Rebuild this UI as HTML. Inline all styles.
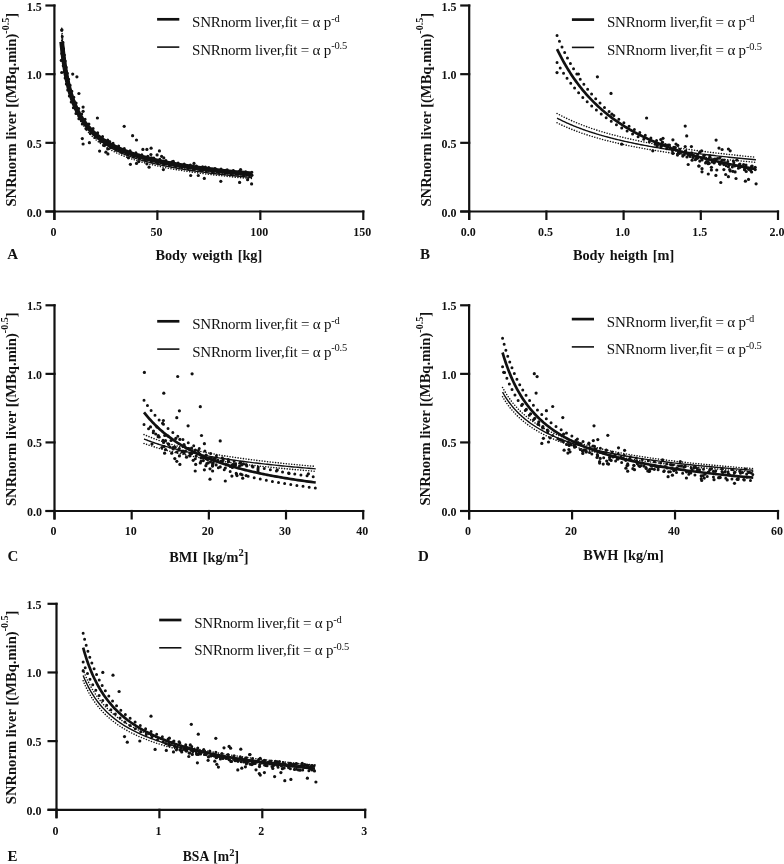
<!DOCTYPE html>
<html><head><meta charset="utf-8"><style>
html,body{margin:0;padding:0;background:#fff;}
svg{display:block;will-change:transform;}
.t{font-family:"Liberation Serif",serif;font-weight:bold;font-size:12px;fill:#111;}
.xl{font-family:"Liberation Serif",serif;font-weight:bold;font-size:14.3px;fill:#111;word-spacing:1.4px;}
.pl{font-family:"Liberation Serif",serif;font-weight:bold;font-size:15px;fill:#111;}
.yl{font-family:"Liberation Serif",serif;font-weight:bold;font-size:14.6px;fill:#111;}
.f1{fill:none;stroke:#111;stroke-width:2.7;}
.f2{fill:none;stroke:#111;stroke-width:1.4;}
.ci1{fill:none;stroke:#111;stroke-width:3.0;stroke-dasharray:0 6.2;stroke-linecap:round;}
.ci2{fill:none;stroke:#111;stroke-width:1.6;stroke-dasharray:0 2.7;stroke-linecap:round;}
.lg{font-family:"Liberation Serif",serif;font-size:15px;fill:#111;letter-spacing:-0.2px;}
</style></head><body>
<svg fill="#111" width="784" height="864" viewBox="0 0 784 864">
<path d="M54.40 4.40V220.00M45.40 211.50H364.40" stroke="#111" stroke-width="2.2" fill="none"/>
<path d="M45.40 211.50H55.50" stroke="#111" stroke-width="2.2"/>
<text transform="translate(41.80 216.50) scale(1 1.12)" text-anchor="end" class="t">0.0</text>
<path d="M45.40 142.83H55.50" stroke="#111" stroke-width="2.2"/>
<text transform="translate(41.80 147.83) scale(1 1.12)" text-anchor="end" class="t">0.5</text>
<path d="M45.40 74.17H55.50" stroke="#111" stroke-width="2.2"/>
<text transform="translate(41.80 79.17) scale(1 1.12)" text-anchor="end" class="t">1.0</text>
<path d="M45.40 5.50H55.50" stroke="#111" stroke-width="2.2"/>
<text transform="translate(41.80 10.50) scale(1 1.12)" text-anchor="end" class="t">1.5</text>
<path d="M54.40 210.40V220.00" stroke="#111" stroke-width="2.2"/>
<text transform="translate(53.40 235.70) scale(1 1.12)" text-anchor="middle" class="t">0</text>
<path d="M157.37 210.40V220.00" stroke="#111" stroke-width="2.2"/>
<text transform="translate(156.37 235.70) scale(1 1.12)" text-anchor="middle" class="t">50</text>
<path d="M260.33 210.40V220.00" stroke="#111" stroke-width="2.2"/>
<text transform="translate(259.33 235.70) scale(1 1.12)" text-anchor="middle" class="t">100</text>
<path d="M363.30 210.40V220.00" stroke="#111" stroke-width="2.2"/>
<text transform="translate(362.30 235.70) scale(1 1.12)" text-anchor="middle" class="t">150</text>
<text x="208.85" y="259.90" text-anchor="middle" class="xl" style="font-size:14.3px">Body weigth [kg]</text>
<text x="7.30" y="258.60" class="pl">A</text>
<text transform="translate(15.90 206.50) rotate(-90)" class="yl">SNRnorm liver [(MBq.min)<tspan dy="-7.2" font-size="10">-0.5</tspan><tspan dy="7.2">]</tspan></text>
<path d="M157.10 19.30h22.2" stroke="#111" stroke-width="2.7"/>
<path d="M157.10 47.10h22.2" stroke="#111" stroke-width="1.6"/>
<text x="192.10" y="27.00" class="lg">SNRnorm liver,fit = α p<tspan dy="-5.2" font-size="10.5">-d</tspan></text>
<text x="192.10" y="54.50" class="lg">SNRnorm liver,fit = α p<tspan dy="-5.2" font-size="10.5">-0.5</tspan></text>
<path d="M61.71 28.18 L61.91 30.68 L62.12 33.15 L62.34 35.58 L62.56 37.98 L62.79 40.35 L63.02 42.69 L63.26 44.99 L63.51 47.26 L63.76 49.50 L64.02 51.71 L64.29 53.89 L64.57 56.04 L64.85 58.17 L65.14 60.26 L65.44 62.32 L65.75 64.36 L66.06 66.37 L66.39 68.35 L66.72 70.30 L67.07 72.23 L67.42 74.13 L67.78 76.00 L68.15 77.85 L68.54 79.67 L68.93 81.47 L69.34 83.25 L69.75 85.00 L70.18 86.72 L70.62 88.42 L71.07 90.10 L71.54 91.76 L72.01 93.39 L72.50 95.01 L73.01 96.60 L73.53 98.16 L74.06 99.71 L74.61 101.24 L75.17 102.74 L75.75 104.22 L76.34 105.69 L76.95 107.13 L77.58 108.56 L78.23 109.96 L78.89 111.35 L79.58 112.71 L80.28 114.06 L81.00 115.39 L81.74 116.70 L82.50 118.00 L83.28 119.27 L84.09 120.53 L84.91 121.77 L85.76 123.00 L86.64 124.20 L87.54 125.39 L88.46 126.57 L89.41 127.73 L90.38 128.87 L91.39 130.00 L92.42 131.11 L93.48 132.21 L94.56 133.29 L95.68 134.36 L96.83 135.41 L98.02 136.45 L99.23 137.47 L100.48 138.48 L101.76 139.48 L103.08 140.46 L104.44 141.43 L105.83 142.39 L107.27 143.33 L108.74 144.26 L110.25 145.18 L111.81 146.08 L113.41 146.97 L115.05 147.86 L116.74 148.72 L118.48 149.58 L120.26 150.43 L122.10 151.26 L123.99 152.08 L125.92 152.89 L127.92 153.69 L129.96 154.48 L132.07 155.26 L134.23 156.03 L136.46 156.78 L138.74 157.53 L141.09 158.27 L143.51 158.99 L145.99 159.71 L148.54 160.42 L151.17 161.11 L153.86 161.80 L156.63 162.48 L159.48 163.15 L162.41 163.81 L165.42 164.46 L168.51 165.10 L171.69 165.73 L174.96 166.36 L178.32 166.97 L181.77 167.58 L185.32 168.18 L188.96 168.77 L192.71 169.35 L196.57 169.93 L200.53 170.50 L204.60 171.06 L208.78 171.61 L213.08 172.15 L217.50 172.69 L222.05 173.22 L226.72 173.74 L231.52 174.26 L236.45 174.76 L241.52 175.27 L246.74 175.76 L252.10 176.25" class="ci2"/>
<path d="M61.71 40.58 L61.91 42.91 L62.12 45.21 L62.34 47.48 L62.56 49.72 L62.79 51.93 L63.02 54.10 L63.26 56.25 L63.51 58.37 L63.76 60.46 L64.02 62.52 L64.29 64.55 L64.57 66.56 L64.85 68.54 L65.14 70.49 L65.44 72.41 L65.75 74.31 L66.06 76.18 L66.39 78.03 L66.72 79.85 L67.07 81.65 L67.42 83.42 L67.78 85.16 L68.15 86.89 L68.54 88.59 L68.93 90.27 L69.34 91.92 L69.75 93.55 L70.18 95.16 L70.62 96.75 L71.07 98.31 L71.54 99.86 L72.01 101.38 L72.50 102.89 L73.01 104.37 L73.53 105.83 L74.06 107.27 L74.61 108.69 L75.17 110.10 L75.75 111.48 L76.34 112.84 L76.95 114.19 L77.58 115.52 L78.23 116.83 L78.89 118.12 L79.58 119.39 L80.28 120.65 L81.00 121.89 L81.74 123.11 L82.50 124.32 L83.28 125.51 L84.09 126.68 L84.91 127.84 L85.76 128.98 L86.64 130.11 L87.54 131.22 L88.46 132.31 L89.41 133.39 L90.38 134.46 L91.39 135.51 L92.42 136.55 L93.48 137.57 L94.56 138.58 L95.68 139.57 L96.83 140.56 L98.02 141.52 L99.23 142.48 L100.48 143.42 L101.76 144.35 L103.08 145.27 L104.44 146.17 L105.83 147.06 L107.27 147.94 L108.74 148.81 L110.25 149.66 L111.81 150.51 L113.41 151.34 L115.05 152.16 L116.74 152.97 L118.48 153.77 L120.26 154.56 L122.10 155.33 L123.99 156.10 L125.92 156.86 L127.92 157.60 L129.96 158.34 L132.07 159.06 L134.23 159.78 L136.46 160.48 L138.74 161.18 L141.09 161.87 L143.51 162.54 L145.99 163.21 L148.54 163.87 L151.17 164.52 L153.86 165.16 L156.63 165.79 L159.48 166.42 L162.41 167.03 L165.42 167.64 L168.51 168.24 L171.69 168.83 L174.96 169.41 L178.32 169.98 L181.77 170.55 L185.32 171.11 L188.96 171.66 L192.71 172.20 L196.57 172.74 L200.53 173.27 L204.60 173.79 L208.78 174.31 L213.08 174.81 L217.50 175.31 L222.05 175.81 L226.72 176.29 L231.52 176.78 L236.45 177.25 L241.52 177.72 L246.74 178.18 L252.10 178.63" class="ci2"/>
<path d="M61.71 34.38 L61.91 36.80 L62.12 39.18 L62.34 41.53 L62.56 43.85 L62.79 46.14 L63.02 48.40 L63.26 50.62 L63.51 52.82 L63.76 54.98 L64.02 57.12 L64.29 59.22 L64.57 61.30 L64.85 63.35 L65.14 65.37 L65.44 67.37 L65.75 69.33 L66.06 71.27 L66.39 73.19 L66.72 75.07 L67.07 76.94 L67.42 78.77 L67.78 80.58 L68.15 82.37 L68.54 84.13 L68.93 85.87 L69.34 87.58 L69.75 89.27 L70.18 90.94 L70.62 92.59 L71.07 94.21 L71.54 95.81 L72.01 97.39 L72.50 98.95 L73.01 100.48 L73.53 102.00 L74.06 103.49 L74.61 104.96 L75.17 106.42 L75.75 107.85 L76.34 109.27 L76.95 110.66 L77.58 112.04 L78.23 113.39 L78.89 114.73 L79.58 116.05 L80.28 117.36 L81.00 118.64 L81.74 119.91 L82.50 121.16 L83.28 122.39 L84.09 123.61 L84.91 124.81 L85.76 125.99 L86.64 127.16 L87.54 128.31 L88.46 129.44 L89.41 130.56 L90.38 131.67 L91.39 132.75 L92.42 133.83 L93.48 134.89 L94.56 135.93 L95.68 136.97 L96.83 137.98 L98.02 138.99 L99.23 139.98 L100.48 140.95 L101.76 141.91 L103.08 142.86 L104.44 143.80 L105.83 144.72 L107.27 145.63 L108.74 146.53 L110.25 147.42 L111.81 148.29 L113.41 149.16 L115.05 150.01 L116.74 150.85 L118.48 151.67 L120.26 152.49 L122.10 153.30 L123.99 154.09 L125.92 154.87 L127.92 155.65 L129.96 156.41 L132.07 157.16 L134.23 157.90 L136.46 158.63 L138.74 159.35 L141.09 160.07 L143.51 160.77 L145.99 161.46 L148.54 162.14 L151.17 162.82 L153.86 163.48 L156.63 164.14 L159.48 164.78 L162.41 165.42 L165.42 166.05 L168.51 166.67 L171.69 167.28 L174.96 167.88 L178.32 168.48 L181.77 169.07 L185.32 169.64 L188.96 170.22 L192.71 170.78 L196.57 171.33 L200.53 171.88 L204.60 172.42 L208.78 172.96 L213.08 173.48 L217.50 174.00 L222.05 174.51 L226.72 175.02 L231.52 175.52 L236.45 176.01 L241.52 176.49 L246.74 176.97 L252.10 177.44" class="f2"/>
<path d="M61.71 30.24 L61.91 32.58 L62.12 34.88 L62.34 37.16 L62.56 39.41 L62.79 41.62 L63.02 43.81 L63.26 45.97 L63.51 48.10 L63.76 50.20 L64.02 52.28 L64.29 54.33 L64.57 56.35 L64.85 58.35 L65.14 60.32 L65.44 62.26 L65.75 64.18 L66.06 66.08 L66.39 67.94 L66.72 69.79 L67.07 71.61 L67.42 73.41 L67.78 75.18 L68.15 76.93 L68.54 78.66 L68.93 80.37 L69.34 82.05 L69.75 83.71 L70.18 85.35 L70.62 86.97 L71.07 88.57 L71.54 90.14 L72.01 91.70 L72.50 93.23 L73.01 94.75 L73.53 96.25 L74.06 97.72 L74.61 99.18 L75.17 100.62 L75.75 102.04 L76.34 103.44 L76.95 104.82 L77.58 106.18 L78.23 107.53 L78.89 108.86 L79.58 110.17 L80.28 111.46 L81.00 112.74 L81.74 114.00 L82.50 115.25 L83.28 116.47 L84.09 117.69 L84.91 118.88 L85.76 120.06 L86.64 121.23 L87.54 122.38 L88.46 123.51 L89.41 124.63 L90.38 125.74 L91.39 126.83 L92.42 127.90 L93.48 128.97 L94.56 130.02 L95.68 131.05 L96.83 132.07 L98.02 133.08 L99.23 134.07 L100.48 135.06 L101.76 136.02 L103.08 136.98 L104.44 137.92 L105.83 138.85 L107.27 139.77 L108.74 140.68 L110.25 141.58 L111.81 142.46 L113.41 143.33 L115.05 144.19 L116.74 145.04 L118.48 145.88 L120.26 146.70 L122.10 147.52 L123.99 148.33 L125.92 149.12 L127.92 149.91 L129.96 150.68 L132.07 151.44 L134.23 152.20 L136.46 152.94 L138.74 153.68 L141.09 154.40 L143.51 155.12 L145.99 155.82 L148.54 156.52 L151.17 157.21 L153.86 157.89 L156.63 158.56 L159.48 159.22 L162.41 159.87 L165.42 160.52 L168.51 161.15 L171.69 161.78 L174.96 162.40 L178.32 163.01 L181.77 163.61 L185.32 164.21 L188.96 164.80 L192.71 165.38 L196.57 165.95 L200.53 166.51 L204.60 167.07 L208.78 167.62 L213.08 168.17 L217.50 168.70 L222.05 169.23 L226.72 169.76 L231.52 170.27 L236.45 170.78 L241.52 171.29 L246.74 171.78 L252.10 172.27" class="ci1"/>
<path d="M61.71 53.38 L61.91 55.28 L62.12 57.17 L62.34 59.02 L62.56 60.86 L62.79 62.68 L63.02 64.47 L63.26 66.24 L63.51 67.99 L63.76 69.72 L64.02 71.43 L64.29 73.12 L64.57 74.79 L64.85 76.44 L65.14 78.07 L65.44 79.69 L65.75 81.28 L66.06 82.85 L66.39 84.41 L66.72 85.94 L67.07 87.46 L67.42 88.96 L67.78 90.44 L68.15 91.91 L68.54 93.35 L68.93 94.78 L69.34 96.20 L69.75 97.59 L70.18 98.97 L70.62 100.33 L71.07 101.68 L71.54 103.01 L72.01 104.33 L72.50 105.63 L73.01 106.91 L73.53 108.18 L74.06 109.44 L74.61 110.68 L75.17 111.90 L75.75 113.11 L76.34 114.31 L76.95 115.49 L77.58 116.66 L78.23 117.81 L78.89 118.95 L79.58 120.08 L80.28 121.19 L81.00 122.29 L81.74 123.38 L82.50 124.45 L83.28 125.52 L84.09 126.57 L84.91 127.60 L85.76 128.63 L86.64 129.64 L87.54 130.64 L88.46 131.63 L89.41 132.61 L90.38 133.57 L91.39 134.53 L92.42 135.47 L93.48 136.40 L94.56 137.32 L95.68 138.23 L96.83 139.13 L98.02 140.02 L99.23 140.90 L100.48 141.77 L101.76 142.62 L103.08 143.47 L104.44 144.31 L105.83 145.14 L107.27 145.95 L108.74 146.76 L110.25 147.56 L111.81 148.35 L113.41 149.13 L115.05 149.90 L116.74 150.66 L118.48 151.41 L120.26 152.16 L122.10 152.89 L123.99 153.62 L125.92 154.33 L127.92 155.04 L129.96 155.74 L132.07 156.44 L134.23 157.12 L136.46 157.80 L138.74 158.46 L141.09 159.12 L143.51 159.78 L145.99 160.42 L148.54 161.06 L151.17 161.69 L153.86 162.31 L156.63 162.92 L159.48 163.53 L162.41 164.13 L165.42 164.72 L168.51 165.31 L171.69 165.89 L174.96 166.46 L178.32 167.02 L181.77 167.58 L185.32 168.13 L188.96 168.68 L192.71 169.21 L196.57 169.75 L200.53 170.27 L204.60 170.79 L208.78 171.30 L213.08 171.81 L217.50 172.31 L222.05 172.80 L226.72 173.29 L231.52 173.77 L236.45 174.25 L241.52 174.72 L246.74 175.19 L252.10 175.65" class="ci1"/>
<path d="M61.71 41.81 L61.91 43.93 L62.12 46.02 L62.34 48.09 L62.56 50.13 L62.79 52.15 L63.02 54.14 L63.26 56.11 L63.51 58.05 L63.76 59.96 L64.02 61.86 L64.29 63.73 L64.57 65.57 L64.85 67.40 L65.14 69.20 L65.44 70.97 L65.75 72.73 L66.06 74.46 L66.39 76.17 L66.72 77.87 L67.07 79.54 L67.42 81.18 L67.78 82.81 L68.15 84.42 L68.54 86.01 L68.93 87.57 L69.34 89.12 L69.75 90.65 L70.18 92.16 L70.62 93.65 L71.07 95.12 L71.54 96.58 L72.01 98.01 L72.50 99.43 L73.01 100.83 L73.53 102.21 L74.06 103.58 L74.61 104.93 L75.17 106.26 L75.75 107.57 L76.34 108.87 L76.95 110.15 L77.58 111.42 L78.23 112.67 L78.89 113.91 L79.58 115.12 L80.28 116.33 L81.00 117.52 L81.74 118.69 L82.50 119.85 L83.28 121.00 L84.09 122.13 L84.91 123.24 L85.76 124.35 L86.64 125.43 L87.54 126.51 L88.46 127.57 L89.41 128.62 L90.38 129.66 L91.39 130.68 L92.42 131.69 L93.48 132.68 L94.56 133.67 L95.68 134.64 L96.83 135.60 L98.02 136.55 L99.23 137.49 L100.48 138.41 L101.76 139.32 L103.08 140.23 L104.44 141.12 L105.83 142.00 L107.27 142.86 L108.74 143.72 L110.25 144.57 L111.81 145.40 L113.41 146.23 L115.05 147.04 L116.74 147.85 L118.48 148.65 L120.26 149.43 L122.10 150.21 L123.99 150.97 L125.92 151.73 L127.92 152.47 L129.96 153.21 L132.07 153.94 L134.23 154.66 L136.46 155.37 L138.74 156.07 L141.09 156.76 L143.51 157.45 L145.99 158.12 L148.54 158.79 L151.17 159.45 L153.86 160.10 L156.63 160.74 L159.48 161.37 L162.41 162.00 L165.42 162.62 L168.51 163.23 L171.69 163.83 L174.96 164.43 L178.32 165.02 L181.77 165.60 L185.32 166.17 L188.96 166.74 L192.71 167.30 L196.57 167.85 L200.53 168.39 L204.60 168.93 L208.78 169.46 L213.08 169.99 L217.50 170.51 L222.05 171.02 L226.72 171.52 L231.52 172.02 L236.45 172.52 L241.52 173.00 L246.74 173.49 L252.10 173.96" class="f1" style="stroke-width:4.8"/>
<circle cx="61.9" cy="29.8" r="1.6"/><circle cx="61.3" cy="60.4" r="1.6"/><circle cx="61.7" cy="72.5" r="1.6"/><circle cx="72.7" cy="74.1" r="1.6"/><circle cx="76.9" cy="76.8" r="1.6"/><circle cx="78.9" cy="93.5" r="1.6"/><circle cx="83.1" cy="107.1" r="1.6"/><circle cx="83.1" cy="111.3" r="1.6"/><circle cx="97.4" cy="118" r="1.6"/><circle cx="124.2" cy="126.3" r="1.6"/><circle cx="132.6" cy="135.7" r="1.6"/><circle cx="136.5" cy="140" r="1.6"/><circle cx="142.9" cy="149.4" r="1.6"/><circle cx="146.9" cy="149.4" r="1.6"/><circle cx="151.1" cy="148.2" r="1.6"/><circle cx="159.4" cy="150.9" r="1.6"/><circle cx="157.1" cy="154.9" r="1.6"/><circle cx="161.6" cy="156.3" r="1.6"/><circle cx="163.8" cy="157.9" r="1.6"/><circle cx="150.9" cy="154.5" r="1.6"/><circle cx="82.3" cy="138.6" r="1.6"/><circle cx="83.1" cy="144" r="1.6"/><circle cx="89.4" cy="142.7" r="1.6"/><circle cx="99.6" cy="151.1" r="1.6"/><circle cx="105.9" cy="152.2" r="1.6"/><circle cx="107.9" cy="153.9" r="1.6"/><circle cx="103.7" cy="145.5" r="1.6"/><circle cx="107.7" cy="148.9" r="1.6"/><circle cx="130.4" cy="164.3" r="1.6"/><circle cx="136.5" cy="163.4" r="1.6"/><circle cx="138.7" cy="161.6" r="1.6"/><circle cx="146.9" cy="163.8" r="1.6"/><circle cx="149.1" cy="167.2" r="1.6"/><circle cx="163.4" cy="169.6" r="1.6"/><circle cx="128.4" cy="157.8" r="1.6"/><circle cx="194" cy="163.4" r="1.6"/><circle cx="190.7" cy="175.5" r="1.6"/><circle cx="198.3" cy="175.5" r="1.6"/><circle cx="204.3" cy="178.4" r="1.6"/><circle cx="220.8" cy="181.3" r="1.6"/><circle cx="239.6" cy="182.4" r="1.6"/><circle cx="247.6" cy="179.7" r="1.6"/><circle cx="251.6" cy="183.9" r="1.6"/><circle cx="62.6" cy="52.0" r="1.6"/><circle cx="68.0" cy="81.9" r="1.6"/><circle cx="73.9" cy="101.4" r="1.6"/><circle cx="80.0" cy="116.4" r="1.6"/><circle cx="81.4" cy="120.5" r="1.6"/><circle cx="87.8" cy="127.2" r="1.6"/><circle cx="94.1" cy="134.6" r="1.6"/><circle cx="98.7" cy="137.1" r="1.6"/><circle cx="101.1" cy="141.3" r="1.6"/><circle cx="104.9" cy="140.5" r="1.6"/><circle cx="109.6" cy="141.5" r="1.6"/><circle cx="116.1" cy="146.8" r="1.6"/><circle cx="120.0" cy="149.1" r="1.6"/><circle cx="124.8" cy="151.4" r="1.6"/><circle cx="130.6" cy="152.6" r="1.6"/><circle cx="134.3" cy="154.7" r="1.6"/><circle cx="139.0" cy="155.2" r="1.6"/><circle cx="142.9" cy="157.5" r="1.6"/><circle cx="151.5" cy="157.9" r="1.6"/><circle cx="153.1" cy="159.3" r="1.6"/><circle cx="161.7" cy="162.2" r="1.6"/><circle cx="163.3" cy="161.7" r="1.6"/><circle cx="169.9" cy="162.8" r="1.6"/><circle cx="173.3" cy="161.4" r="1.6"/><circle cx="179.9" cy="164.8" r="1.6"/><circle cx="183.5" cy="165.0" r="1.6"/><circle cx="189.7" cy="167.7" r="1.6"/><circle cx="193.0" cy="166.2" r="1.6"/><circle cx="195.2" cy="167.7" r="1.6"/><circle cx="201.7" cy="170.7" r="1.6"/><circle cx="205.3" cy="167.2" r="1.6"/><circle cx="212.5" cy="169.3" r="1.6"/><circle cx="215.8" cy="169.0" r="1.6"/><circle cx="222.4" cy="171.6" r="1.6"/><circle cx="226.0" cy="170.4" r="1.6"/><circle cx="228.4" cy="172.6" r="1.6"/><circle cx="233.2" cy="171.2" r="1.6"/><circle cx="240.6" cy="169.6" r="1.6"/><circle cx="244.4" cy="173.9" r="1.6"/><circle cx="251.9" cy="175.2" r="1.6"/>
<path d="M469.20 4.40V220.00M460.20 211.50H779.10" stroke="#111" stroke-width="2.2" fill="none"/>
<path d="M460.20 211.50H470.30" stroke="#111" stroke-width="2.2"/>
<text transform="translate(456.60 216.50) scale(1 1.12)" text-anchor="end" class="t">0.0</text>
<path d="M460.20 142.83H470.30" stroke="#111" stroke-width="2.2"/>
<text transform="translate(456.60 147.83) scale(1 1.12)" text-anchor="end" class="t">0.5</text>
<path d="M460.20 74.17H470.30" stroke="#111" stroke-width="2.2"/>
<text transform="translate(456.60 79.17) scale(1 1.12)" text-anchor="end" class="t">1.0</text>
<path d="M460.20 5.50H470.30" stroke="#111" stroke-width="2.2"/>
<text transform="translate(456.60 10.50) scale(1 1.12)" text-anchor="end" class="t">1.5</text>
<path d="M469.20 210.40V220.00" stroke="#111" stroke-width="2.2"/>
<text transform="translate(468.20 235.70) scale(1 1.12)" text-anchor="middle" class="t">0.0</text>
<path d="M546.40 210.40V220.00" stroke="#111" stroke-width="2.2"/>
<text transform="translate(545.40 235.70) scale(1 1.12)" text-anchor="middle" class="t">0.5</text>
<path d="M623.60 210.40V220.00" stroke="#111" stroke-width="2.2"/>
<text transform="translate(622.60 235.70) scale(1 1.12)" text-anchor="middle" class="t">1.0</text>
<path d="M700.80 210.40V220.00" stroke="#111" stroke-width="2.2"/>
<text transform="translate(699.80 235.70) scale(1 1.12)" text-anchor="middle" class="t">1.5</text>
<path d="M778.00 210.40V220.00" stroke="#111" stroke-width="2.2"/>
<text transform="translate(777.00 235.70) scale(1 1.12)" text-anchor="middle" class="t">2.0</text>
<text x="623.60" y="260.20" text-anchor="middle" class="xl" style="font-size:14.3px">Body heigth [m]</text>
<text x="420.10" y="258.60" class="pl">B</text>
<text transform="translate(430.60 206.50) rotate(-90)" class="yl">SNRnorm liver [(MBq.min)<tspan dy="-7.2" font-size="10">-0.5</tspan><tspan dy="7.2">]</tspan></text>
<path d="M571.90 19.60h22.2" stroke="#111" stroke-width="2.7"/>
<path d="M571.90 47.40h22.2" stroke="#111" stroke-width="1.6"/>
<text x="606.90" y="27.30" class="lg">SNRnorm liver,fit = α p<tspan dy="-5.2" font-size="10.5">-d</tspan></text>
<text x="606.90" y="54.80" class="lg">SNRnorm liver,fit = α p<tspan dy="-5.2" font-size="10.5">-0.5</tspan></text>
<path d="M557.05 113.43 L557.92 113.91 L558.80 114.39 L559.69 114.87 L560.59 115.35 L561.49 115.82 L562.41 116.29 L563.33 116.76 L564.26 117.22 L565.20 117.69 L566.15 118.15 L567.11 118.61 L568.08 119.06 L569.06 119.52 L570.05 119.97 L571.05 120.42 L572.06 120.87 L573.08 121.31 L574.11 121.76 L575.15 122.20 L576.20 122.64 L577.26 123.07 L578.33 123.51 L579.41 123.94 L580.50 124.37 L581.60 124.80 L582.72 125.23 L583.84 125.65 L584.98 126.07 L586.12 126.49 L587.28 126.91 L588.45 127.33 L589.63 127.74 L590.83 128.15 L592.03 128.56 L593.25 128.97 L594.48 129.38 L595.72 129.78 L596.97 130.18 L598.24 130.58 L599.51 130.98 L600.81 131.37 L602.11 131.77 L603.43 132.16 L604.76 132.55 L606.10 132.94 L607.45 133.33 L608.82 133.71 L610.21 134.09 L611.60 134.47 L613.01 134.85 L614.44 135.23 L615.88 135.60 L617.33 135.98 L618.80 136.35 L620.28 136.72 L621.78 137.08 L623.29 137.45 L624.81 137.81 L626.36 138.18 L627.91 138.54 L629.48 138.90 L631.07 139.25 L632.68 139.61 L634.29 139.96 L635.93 140.31 L637.58 140.66 L639.25 141.01 L640.93 141.36 L642.64 141.70 L644.35 142.05 L646.09 142.39 L647.84 142.73 L649.61 143.07 L651.40 143.40 L653.20 143.74 L655.02 144.07 L656.87 144.40 L658.72 144.73 L660.60 145.06 L662.50 145.39 L664.41 145.71 L666.35 146.03 L668.30 146.36 L670.27 146.68 L672.26 147.00 L674.27 147.31 L676.31 147.63 L678.36 147.94 L680.43 148.25 L682.52 148.57 L684.63 148.87 L686.77 149.18 L688.92 149.49 L691.10 149.79 L693.30 150.10 L695.52 150.40 L697.76 150.70 L700.02 151.00 L702.31 151.30 L704.62 151.59 L706.95 151.89 L709.31 152.18 L711.69 152.47 L714.09 152.76 L716.51 153.05 L718.96 153.34 L721.44 153.62 L723.94 153.91 L726.46 154.19 L729.01 154.47 L731.58 154.75 L734.18 155.03 L736.80 155.31 L739.46 155.59 L742.13 155.86 L744.84 156.13 L747.57 156.41 L750.32 156.68 L753.11 156.95 L755.92 157.22" class="ci2"/>
<path d="M557.05 122.77 L557.92 123.21 L558.80 123.64 L559.69 124.07 L560.59 124.50 L561.49 124.93 L562.41 125.36 L563.33 125.78 L564.26 126.20 L565.20 126.62 L566.15 127.04 L567.11 127.45 L568.08 127.87 L569.06 128.28 L570.05 128.69 L571.05 129.09 L572.06 129.50 L573.08 129.90 L574.11 130.30 L575.15 130.70 L576.20 131.10 L577.26 131.50 L578.33 131.89 L579.41 132.28 L580.50 132.67 L581.60 133.06 L582.72 133.44 L583.84 133.83 L584.98 134.21 L586.12 134.59 L587.28 134.97 L588.45 135.34 L589.63 135.72 L590.83 136.09 L592.03 136.46 L593.25 136.83 L594.48 137.20 L595.72 137.56 L596.97 137.93 L598.24 138.29 L599.51 138.65 L600.81 139.01 L602.11 139.36 L603.43 139.72 L604.76 140.07 L606.10 140.42 L607.45 140.77 L608.82 141.12 L610.21 141.46 L611.60 141.81 L613.01 142.15 L614.44 142.49 L615.88 142.83 L617.33 143.17 L618.80 143.50 L620.28 143.84 L621.78 144.17 L623.29 144.50 L624.81 144.83 L626.36 145.16 L627.91 145.49 L629.48 145.81 L631.07 146.13 L632.68 146.45 L634.29 146.77 L635.93 147.09 L637.58 147.41 L639.25 147.72 L640.93 148.04 L642.64 148.35 L644.35 148.66 L646.09 148.97 L647.84 149.28 L649.61 149.58 L651.40 149.89 L653.20 150.19 L655.02 150.49 L656.87 150.79 L658.72 151.09 L660.60 151.39 L662.50 151.68 L664.41 151.98 L666.35 152.27 L668.30 152.56 L670.27 152.85 L672.26 153.14 L674.27 153.43 L676.31 153.71 L678.36 154.00 L680.43 154.28 L682.52 154.56 L684.63 154.84 L686.77 155.12 L688.92 155.39 L691.10 155.67 L693.30 155.95 L695.52 156.22 L697.76 156.49 L700.02 156.76 L702.31 157.03 L704.62 157.30 L706.95 157.56 L709.31 157.83 L711.69 158.09 L714.09 158.36 L716.51 158.62 L718.96 158.88 L721.44 159.14 L723.94 159.39 L726.46 159.65 L729.01 159.90 L731.58 160.16 L734.18 160.41 L736.80 160.66 L739.46 160.91 L742.13 161.16 L744.84 161.41 L747.57 161.65 L750.32 161.90 L753.11 162.14 L755.92 162.39" class="ci2"/>
<path d="M557.05 118.10 L557.92 118.56 L558.80 119.02 L559.69 119.47 L560.59 119.93 L561.49 120.38 L562.41 120.82 L563.33 121.27 L564.26 121.71 L565.20 122.15 L566.15 122.59 L567.11 123.03 L568.08 123.47 L569.06 123.90 L570.05 124.33 L571.05 124.76 L572.06 125.18 L573.08 125.61 L574.11 126.03 L575.15 126.45 L576.20 126.87 L577.26 127.29 L578.33 127.70 L579.41 128.11 L580.50 128.52 L581.60 128.93 L582.72 129.34 L583.84 129.74 L584.98 130.14 L586.12 130.54 L587.28 130.94 L588.45 131.34 L589.63 131.73 L590.83 132.12 L592.03 132.51 L593.25 132.90 L594.48 133.29 L595.72 133.67 L596.97 134.05 L598.24 134.43 L599.51 134.81 L600.81 135.19 L602.11 135.57 L603.43 135.94 L604.76 136.31 L606.10 136.68 L607.45 137.05 L608.82 137.41 L610.21 137.78 L611.60 138.14 L613.01 138.50 L614.44 138.86 L615.88 139.22 L617.33 139.57 L618.80 139.93 L620.28 140.28 L621.78 140.63 L623.29 140.98 L624.81 141.32 L626.36 141.67 L627.91 142.01 L629.48 142.35 L631.07 142.69 L632.68 143.03 L634.29 143.37 L635.93 143.70 L637.58 144.04 L639.25 144.37 L640.93 144.70 L642.64 145.03 L644.35 145.35 L646.09 145.68 L647.84 146.00 L649.61 146.32 L651.40 146.64 L653.20 146.96 L655.02 147.28 L656.87 147.60 L658.72 147.91 L660.60 148.22 L662.50 148.53 L664.41 148.84 L666.35 149.15 L668.30 149.46 L670.27 149.76 L672.26 150.07 L674.27 150.37 L676.31 150.67 L678.36 150.97 L680.43 151.27 L682.52 151.56 L684.63 151.86 L686.77 152.15 L688.92 152.44 L691.10 152.73 L693.30 153.02 L695.52 153.31 L697.76 153.59 L700.02 153.88 L702.31 154.16 L704.62 154.44 L706.95 154.73 L709.31 155.00 L711.69 155.28 L714.09 155.56 L716.51 155.83 L718.96 156.11 L721.44 156.38 L723.94 156.65 L726.46 156.92 L729.01 157.19 L731.58 157.46 L734.18 157.72 L736.80 157.99 L739.46 158.25 L742.13 158.51 L744.84 158.77 L747.57 159.03 L750.32 159.29 L753.11 159.54 L755.92 159.80" class="f2"/>
<path d="M557.05 35.55 L557.92 37.65 L558.80 39.74 L559.69 41.79 L560.59 43.82 L561.49 45.83 L562.41 47.81 L563.33 49.77 L564.26 51.70 L565.20 53.61 L566.15 55.50 L567.11 57.37 L568.08 59.21 L569.06 61.03 L570.05 62.83 L571.05 64.61 L572.06 66.36 L573.08 68.09 L574.11 69.81 L575.15 71.50 L576.20 73.17 L577.26 74.82 L578.33 76.45 L579.41 78.06 L580.50 79.65 L581.60 81.23 L582.72 82.78 L583.84 84.31 L584.98 85.83 L586.12 87.32 L587.28 88.80 L588.45 90.26 L589.63 91.70 L590.83 93.13 L592.03 94.53 L593.25 95.92 L594.48 97.29 L595.72 98.65 L596.97 99.98 L598.24 101.30 L599.51 102.61 L600.81 103.90 L602.11 105.17 L603.43 106.42 L604.76 107.66 L606.10 108.89 L607.45 110.10 L608.82 111.29 L610.21 112.47 L611.60 113.63 L613.01 114.78 L614.44 115.91 L615.88 117.03 L617.33 118.14 L618.80 119.23 L620.28 120.30 L621.78 121.36 L623.29 122.41 L624.81 123.44 L626.36 124.46 L627.91 125.47 L629.48 126.46 L631.07 127.44 L632.68 128.41 L634.29 129.36 L635.93 130.30 L637.58 131.23 L639.25 132.14 L640.93 133.04 L642.64 133.93 L644.35 134.81 L646.09 135.67 L647.84 136.53 L649.61 137.37 L651.40 138.20 L653.20 139.01 L655.02 139.82 L656.87 140.61 L658.72 141.40 L660.60 142.17 L662.50 142.93 L664.41 143.69 L666.35 144.43 L668.30 145.16 L670.27 145.88 L672.26 146.59 L674.27 147.30 L676.31 147.99 L678.36 148.67 L680.43 149.35 L682.52 150.02 L684.63 150.67 L686.77 151.32 L688.92 151.97 L691.10 152.60 L693.30 153.22 L695.52 153.84 L697.76 154.45 L700.02 155.06 L702.31 155.65 L704.62 156.24 L706.95 156.82 L709.31 157.39 L711.69 157.96 L714.09 158.52 L716.51 159.08 L718.96 159.63 L721.44 160.17 L723.94 160.70 L726.46 161.23 L729.01 161.76 L731.58 162.27 L734.18 162.79 L736.80 163.29 L739.46 163.79 L742.13 164.29 L744.84 164.78 L747.57 165.26 L750.32 165.74 L753.11 166.21 L755.92 166.68" class="ci1"/>
<path d="M557.05 62.59 L557.92 64.10 L558.80 65.59 L559.69 67.06 L560.59 68.53 L561.49 69.97 L562.41 71.40 L563.33 72.82 L564.26 74.23 L565.20 75.62 L566.15 77.00 L567.11 78.36 L568.08 79.71 L569.06 81.05 L570.05 82.37 L571.05 83.68 L572.06 84.98 L573.08 86.27 L574.11 87.54 L575.15 88.80 L576.20 90.05 L577.26 91.29 L578.33 92.51 L579.41 93.72 L580.50 94.93 L581.60 96.12 L582.72 97.29 L583.84 98.46 L584.98 99.62 L586.12 100.76 L587.28 101.89 L588.45 103.02 L589.63 104.13 L590.83 105.23 L592.03 106.32 L593.25 107.40 L594.48 108.47 L595.72 109.53 L596.97 110.58 L598.24 111.62 L599.51 112.65 L600.81 113.67 L602.11 114.69 L603.43 115.69 L604.76 116.68 L606.10 117.67 L607.45 118.64 L608.82 119.61 L610.21 120.56 L611.60 121.51 L613.01 122.45 L614.44 123.38 L615.88 124.31 L617.33 125.22 L618.80 126.13 L620.28 127.03 L621.78 127.92 L623.29 128.80 L624.81 129.68 L626.36 130.55 L627.91 131.41 L629.48 132.26 L631.07 133.11 L632.68 133.95 L634.29 134.78 L635.93 135.61 L637.58 136.43 L639.25 137.24 L640.93 138.05 L642.64 138.85 L644.35 139.64 L646.09 140.43 L647.84 141.21 L649.61 141.98 L651.40 142.75 L653.20 143.51 L655.02 144.26 L656.87 145.01 L658.72 145.76 L660.60 146.49 L662.50 147.22 L664.41 147.95 L666.35 148.67 L668.30 149.38 L670.27 150.09 L672.26 150.78 L674.27 151.48 L676.31 152.17 L678.36 152.85 L680.43 153.52 L682.52 154.19 L684.63 154.85 L686.77 155.51 L688.92 156.16 L691.10 156.80 L693.30 157.44 L695.52 158.07 L697.76 158.69 L700.02 159.31 L702.31 159.93 L704.62 160.53 L706.95 161.13 L709.31 161.72 L711.69 162.31 L714.09 162.89 L716.51 163.47 L718.96 164.04 L721.44 164.60 L723.94 165.15 L726.46 165.70 L729.01 166.25 L731.58 166.79 L734.18 167.32 L736.80 167.85 L739.46 168.37 L742.13 168.88 L744.84 169.39 L747.57 169.89 L750.32 170.39 L753.11 170.88 L755.92 171.37" class="ci1"/>
<path d="M557.05 49.07 L557.92 50.88 L558.80 52.66 L559.69 54.43 L560.59 56.17 L561.49 57.90 L562.41 59.61 L563.33 61.30 L564.26 62.97 L565.20 64.62 L566.15 66.25 L567.11 67.86 L568.08 69.46 L569.06 71.04 L570.05 72.60 L571.05 74.14 L572.06 75.67 L573.08 77.18 L574.11 78.67 L575.15 80.15 L576.20 81.61 L577.26 83.05 L578.33 84.48 L579.41 85.89 L580.50 87.29 L581.60 88.67 L582.72 90.04 L583.84 91.39 L584.98 92.72 L586.12 94.04 L587.28 95.35 L588.45 96.64 L589.63 97.92 L590.83 99.18 L592.03 100.43 L593.25 101.66 L594.48 102.88 L595.72 104.09 L596.97 105.28 L598.24 106.46 L599.51 107.63 L600.81 108.79 L602.11 109.93 L603.43 111.06 L604.76 112.17 L606.10 113.28 L607.45 114.37 L608.82 115.45 L610.21 116.52 L611.60 117.57 L613.01 118.62 L614.44 119.65 L615.88 120.67 L617.33 121.68 L618.80 122.68 L620.28 123.66 L621.78 124.64 L623.29 125.61 L624.81 126.56 L626.36 127.51 L627.91 128.44 L629.48 129.36 L631.07 130.28 L632.68 131.18 L634.29 132.07 L635.93 132.95 L637.58 133.83 L639.25 134.69 L640.93 135.54 L642.64 136.39 L644.35 137.22 L646.09 138.05 L647.84 138.87 L649.61 139.67 L651.40 140.47 L653.20 141.26 L655.02 142.04 L656.87 142.81 L658.72 143.58 L660.60 144.33 L662.50 145.08 L664.41 145.82 L666.35 146.55 L668.30 147.27 L670.27 147.98 L672.26 148.69 L674.27 149.39 L676.31 150.08 L678.36 150.76 L680.43 151.44 L682.52 152.10 L684.63 152.76 L686.77 153.42 L688.92 154.06 L691.10 154.70 L693.30 155.33 L695.52 155.96 L697.76 156.57 L700.02 157.18 L702.31 157.79 L704.62 158.39 L706.95 158.98 L709.31 159.56 L711.69 160.14 L714.09 160.71 L716.51 161.27 L718.96 161.83 L721.44 162.38 L723.94 162.93 L726.46 163.47 L729.01 164.00 L731.58 164.53 L734.18 165.05 L736.80 165.57 L739.46 166.08 L742.13 166.58 L744.84 167.08 L747.57 167.58 L750.32 168.07 L753.11 168.55 L755.92 169.03" class="f1" style="stroke-width:2.7"/>
<circle cx="557" cy="72.6" r="1.6"/><circle cx="578.4" cy="74" r="1.6"/><circle cx="597.4" cy="76.8" r="1.6"/><circle cx="611" cy="93.4" r="1.6"/><circle cx="646.6" cy="118" r="1.6"/><circle cx="685.2" cy="126.1" r="1.6"/><circle cx="686.7" cy="135.9" r="1.6"/><circle cx="672.9" cy="139.8" r="1.6"/><circle cx="663" cy="138.3" r="1.6"/><circle cx="660.8" cy="139.6" r="1.6"/><circle cx="676" cy="144.1" r="1.6"/><circle cx="677.8" cy="145.4" r="1.6"/><circle cx="685.2" cy="146.6" r="1.6"/><circle cx="691.4" cy="146.6" r="1.6"/><circle cx="688.2" cy="164.5" r="1.6"/><circle cx="698.9" cy="166" r="1.6"/><circle cx="652.8" cy="150.8" r="1.6"/><circle cx="621.7" cy="144.2" r="1.6"/><circle cx="611.9" cy="114.2" r="1.6"/><circle cx="716.1" cy="140.1" r="1.6"/><circle cx="719" cy="148.1" r="1.6"/><circle cx="722.1" cy="149.5" r="1.6"/><circle cx="728.4" cy="149" r="1.6"/><circle cx="730.2" cy="150.8" r="1.6"/><circle cx="701.6" cy="150.8" r="1.6"/><circle cx="698.9" cy="166" r="1.6"/><circle cx="702" cy="168.7" r="1.6"/><circle cx="702" cy="171.8" r="1.6"/><circle cx="708.3" cy="174" r="1.6"/><circle cx="715.9" cy="175.4" r="1.6"/><circle cx="711.4" cy="167.3" r="1.6"/><circle cx="711.4" cy="170" r="1.6"/><circle cx="725.7" cy="174.5" r="1.6"/><circle cx="728.4" cy="176.7" r="1.6"/><circle cx="736" cy="178.5" r="1.6"/><circle cx="720.8" cy="182.5" r="1.6"/><circle cx="745.4" cy="181.2" r="1.6"/><circle cx="748.5" cy="179.4" r="1.6"/><circle cx="756.1" cy="183.8" r="1.6"/><circle cx="751.6" cy="166.4" r="1.6"/><circle cx="755.2" cy="169.6" r="1.6"/><circle cx="745.4" cy="168.2" r="1.6"/><circle cx="740" cy="167.3" r="1.6"/><circle cx="732.9" cy="171.3" r="1.6"/><circle cx="730.2" cy="170.9" r="1.6"/><circle cx="723.9" cy="169.6" r="1.6"/><circle cx="716.8" cy="170" r="1.6"/><circle cx="709.2" cy="163.3" r="1.6"/><circle cx="705.6" cy="162.9" r="1.6"/><circle cx="695.4" cy="159.7" r="1.6"/><circle cx="693.1" cy="157.5" r="1.6"/><circle cx="699.8" cy="161.1" r="1.6"/><circle cx="712.3" cy="162" r="1.6"/><circle cx="719.5" cy="163.8" r="1.6"/><circle cx="723.9" cy="164.6" r="1.6"/><circle cx="729.3" cy="164.6" r="1.6"/><circle cx="734.6" cy="166" r="1.6"/><circle cx="743.6" cy="164.6" r="1.6"/><circle cx="657.1" cy="146.1" r="1.6"/><circle cx="657.4" cy="144.9" r="1.6"/><circle cx="661.4" cy="146.1" r="1.6"/><circle cx="662.4" cy="142.2" r="1.6"/><circle cx="665.3" cy="144.6" r="1.6"/><circle cx="666.6" cy="145.6" r="1.6"/><circle cx="669.4" cy="145.1" r="1.6"/><circle cx="672.9" cy="153.4" r="1.6"/><circle cx="675.1" cy="147.5" r="1.6"/><circle cx="675.8" cy="150.1" r="1.6"/><circle cx="677.5" cy="155.1" r="1.6"/><circle cx="680.4" cy="153.0" r="1.6"/><circle cx="682.8" cy="156.1" r="1.6"/><circle cx="685.4" cy="151.3" r="1.6"/><circle cx="687.0" cy="157.0" r="1.6"/><circle cx="689.0" cy="155.1" r="1.6"/><circle cx="692.1" cy="160.2" r="1.6"/><circle cx="693.6" cy="155.8" r="1.6"/><circle cx="697.4" cy="158.3" r="1.6"/><circle cx="699.7" cy="152.3" r="1.6"/><circle cx="701.6" cy="158.5" r="1.6"/><circle cx="704.3" cy="155.4" r="1.6"/><circle cx="706.5" cy="161.7" r="1.6"/><circle cx="708.2" cy="163.7" r="1.6"/><circle cx="709.9" cy="155.9" r="1.6"/><circle cx="713.2" cy="159.5" r="1.6"/><circle cx="714.5" cy="162.0" r="1.6"/><circle cx="717.6" cy="158.5" r="1.6"/><circle cx="719.9" cy="157.6" r="1.6"/><circle cx="722.2" cy="163.0" r="1.6"/><circle cx="724.0" cy="160.1" r="1.6"/><circle cx="725.3" cy="162.8" r="1.6"/><circle cx="728.4" cy="166.7" r="1.6"/><circle cx="729.7" cy="169.5" r="1.6"/><circle cx="733.4" cy="161.1" r="1.6"/><circle cx="735.1" cy="171.9" r="1.6"/><circle cx="736.9" cy="160.1" r="1.6"/><circle cx="739.4" cy="164.6" r="1.6"/><circle cx="741.0" cy="166.4" r="1.6"/><circle cx="744.6" cy="169.7" r="1.6"/><circle cx="746.2" cy="171.5" r="1.6"/><circle cx="748.7" cy="169.3" r="1.6"/><circle cx="751.3" cy="168.9" r="1.6"/><circle cx="751.6" cy="172.0" r="1.6"/><circle cx="755.2" cy="167.3" r="1.6"/>
<path d="M54.50 304.20V519.50M45.50 511.00H364.30" stroke="#111" stroke-width="2.2" fill="none"/>
<path d="M45.50 511.00H55.60" stroke="#111" stroke-width="2.2"/>
<text transform="translate(41.90 516.00) scale(1 1.12)" text-anchor="end" class="t">0.0</text>
<path d="M45.50 442.43H55.60" stroke="#111" stroke-width="2.2"/>
<text transform="translate(41.90 447.43) scale(1 1.12)" text-anchor="end" class="t">0.5</text>
<path d="M45.50 373.87H55.60" stroke="#111" stroke-width="2.2"/>
<text transform="translate(41.90 378.87) scale(1 1.12)" text-anchor="end" class="t">1.0</text>
<path d="M45.50 305.30H55.60" stroke="#111" stroke-width="2.2"/>
<text transform="translate(41.90 310.30) scale(1 1.12)" text-anchor="end" class="t">1.5</text>
<path d="M54.50 509.90V519.50" stroke="#111" stroke-width="2.2"/>
<text transform="translate(53.50 535.20) scale(1 1.12)" text-anchor="middle" class="t">0</text>
<path d="M131.68 509.90V519.50" stroke="#111" stroke-width="2.2"/>
<text transform="translate(130.68 535.20) scale(1 1.12)" text-anchor="middle" class="t">10</text>
<path d="M208.85 509.90V519.50" stroke="#111" stroke-width="2.2"/>
<text transform="translate(207.85 535.20) scale(1 1.12)" text-anchor="middle" class="t">20</text>
<path d="M286.02 509.90V519.50" stroke="#111" stroke-width="2.2"/>
<text transform="translate(285.02 535.20) scale(1 1.12)" text-anchor="middle" class="t">30</text>
<path d="M363.20 509.90V519.50" stroke="#111" stroke-width="2.2"/>
<text transform="translate(362.20 535.20) scale(1 1.12)" text-anchor="middle" class="t">40</text>
<text x="208.85" y="561.50" text-anchor="middle" class="xl" style="font-size:14.3px">BMI [kg/m<tspan dy="-5.6" font-size="10.5">2</tspan><tspan dy="5.6">]</tspan></text>
<text x="7.50" y="560.70" class="pl">C</text>
<text transform="translate(15.60 506.00) rotate(-90)" class="yl">SNRnorm liver [(MBq.min)<tspan dy="-7.2" font-size="10">-0.5</tspan><tspan dy="7.2">]</tspan></text>
<path d="M157.20 321.30h22.2" stroke="#111" stroke-width="2.7"/>
<path d="M157.20 349.10h22.2" stroke="#111" stroke-width="1.6"/>
<text x="192.20" y="329.00" class="lg">SNRnorm liver,fit = α p<tspan dy="-5.2" font-size="10.5">-d</tspan></text>
<text x="192.20" y="356.50" class="lg">SNRnorm liver,fit = α p<tspan dy="-5.2" font-size="10.5">-0.5</tspan></text>
<path d="M144.02 434.58 L144.83 434.93 L145.64 435.28 L146.45 435.62 L147.28 435.97 L148.11 436.31 L148.95 436.65 L149.79 437.00 L150.65 437.33 L151.51 437.67 L152.38 438.01 L153.26 438.34 L154.14 438.67 L155.04 439.00 L155.94 439.33 L156.85 439.66 L157.76 439.99 L158.69 440.31 L159.62 440.63 L160.57 440.95 L161.52 441.27 L162.48 441.59 L163.44 441.91 L164.42 442.22 L165.41 442.53 L166.40 442.85 L167.40 443.16 L168.42 443.46 L169.44 443.77 L170.47 444.08 L171.51 444.38 L172.56 444.68 L173.61 444.98 L174.68 445.28 L175.76 445.58 L176.85 445.88 L177.94 446.17 L179.05 446.46 L180.17 446.76 L181.29 447.05 L182.43 447.34 L183.58 447.62 L184.73 447.91 L185.90 448.19 L187.08 448.48 L188.27 448.76 L189.47 449.04 L190.68 449.32 L191.90 449.60 L193.13 449.87 L194.37 450.15 L195.62 450.42 L196.89 450.69 L198.17 450.97 L199.45 451.24 L200.75 451.50 L202.06 451.77 L203.39 452.04 L204.72 452.30 L206.07 452.56 L207.43 452.83 L208.80 453.09 L210.18 453.34 L211.58 453.60 L212.99 453.86 L214.41 454.11 L215.84 454.37 L217.29 454.62 L218.74 454.87 L220.22 455.12 L221.70 455.37 L223.20 455.62 L224.71 455.87 L226.24 456.11 L227.78 456.36 L229.33 456.60 L230.90 456.84 L232.48 457.08 L234.08 457.32 L235.69 457.56 L237.31 457.80 L238.95 458.03 L240.60 458.27 L242.27 458.50 L243.95 458.73 L245.65 458.96 L247.37 459.19 L249.10 459.42 L250.84 459.65 L252.60 459.88 L254.38 460.10 L256.17 460.33 L257.98 460.55 L259.80 460.77 L261.64 461.00 L263.50 461.22 L265.37 461.43 L267.26 461.65 L269.17 461.87 L271.09 462.09 L273.03 462.30 L274.99 462.51 L276.97 462.73 L278.96 462.94 L280.98 463.15 L283.01 463.36 L285.05 463.57 L287.12 463.78 L289.21 463.98 L291.31 464.19 L293.43 464.39 L295.58 464.60 L297.74 464.80 L299.92 465.00 L302.12 465.20 L304.34 465.40 L306.58 465.60 L308.84 465.80 L311.12 466.00 L313.42 466.19 L315.74 466.39" class="ci2"/>
<path d="M144.02 443.44 L144.83 443.73 L145.64 444.02 L146.45 444.31 L147.28 444.60 L148.11 444.88 L148.95 445.17 L149.79 445.45 L150.65 445.73 L151.51 446.01 L152.38 446.29 L153.26 446.57 L154.14 446.85 L155.04 447.13 L155.94 447.40 L156.85 447.68 L157.76 447.95 L158.69 448.23 L159.62 448.50 L160.57 448.77 L161.52 449.04 L162.48 449.31 L163.44 449.57 L164.42 449.84 L165.41 450.11 L166.40 450.37 L167.40 450.63 L168.42 450.90 L169.44 451.16 L170.47 451.42 L171.51 451.68 L172.56 451.94 L173.61 452.19 L174.68 452.45 L175.76 452.71 L176.85 452.96 L177.94 453.21 L179.05 453.47 L180.17 453.72 L181.29 453.97 L182.43 454.22 L183.58 454.47 L184.73 454.71 L185.90 454.96 L187.08 455.21 L188.27 455.45 L189.47 455.69 L190.68 455.94 L191.90 456.18 L193.13 456.42 L194.37 456.66 L195.62 456.90 L196.89 457.14 L198.17 457.38 L199.45 457.61 L200.75 457.85 L202.06 458.08 L203.39 458.32 L204.72 458.55 L206.07 458.78 L207.43 459.01 L208.80 459.24 L210.18 459.47 L211.58 459.70 L212.99 459.93 L214.41 460.15 L215.84 460.38 L217.29 460.60 L218.74 460.83 L220.22 461.05 L221.70 461.27 L223.20 461.49 L224.71 461.71 L226.24 461.93 L227.78 462.15 L229.33 462.37 L230.90 462.59 L232.48 462.80 L234.08 463.02 L235.69 463.23 L237.31 463.45 L238.95 463.66 L240.60 463.87 L242.27 464.08 L243.95 464.29 L245.65 464.50 L247.37 464.71 L249.10 464.92 L250.84 465.12 L252.60 465.33 L254.38 465.54 L256.17 465.74 L257.98 465.94 L259.80 466.15 L261.64 466.35 L263.50 466.55 L265.37 466.75 L267.26 466.95 L269.17 467.15 L271.09 467.35 L273.03 467.54 L274.99 467.74 L276.97 467.94 L278.96 468.13 L280.98 468.33 L283.01 468.52 L285.05 468.71 L287.12 468.90 L289.21 469.09 L291.31 469.28 L293.43 469.47 L295.58 469.66 L297.74 469.85 L299.92 470.04 L302.12 470.22 L304.34 470.41 L306.58 470.59 L308.84 470.78 L311.12 470.96 L313.42 471.14 L315.74 471.33" class="ci2"/>
<path d="M144.02 439.01 L144.83 439.33 L145.64 439.65 L146.45 439.97 L147.28 440.28 L148.11 440.60 L148.95 440.91 L149.79 441.22 L150.65 441.53 L151.51 441.84 L152.38 442.15 L153.26 442.46 L154.14 442.76 L155.04 443.07 L155.94 443.37 L156.85 443.67 L157.76 443.97 L158.69 444.27 L159.62 444.56 L160.57 444.86 L161.52 445.15 L162.48 445.45 L163.44 445.74 L164.42 446.03 L165.41 446.32 L166.40 446.61 L167.40 446.89 L168.42 447.18 L169.44 447.46 L170.47 447.75 L171.51 448.03 L172.56 448.31 L173.61 448.59 L174.68 448.87 L175.76 449.14 L176.85 449.42 L177.94 449.69 L179.05 449.97 L180.17 450.24 L181.29 450.51 L182.43 450.78 L183.58 451.04 L184.73 451.31 L185.90 451.58 L187.08 451.84 L188.27 452.11 L189.47 452.37 L190.68 452.63 L191.90 452.89 L193.13 453.15 L194.37 453.40 L195.62 453.66 L196.89 453.92 L198.17 454.17 L199.45 454.42 L200.75 454.68 L202.06 454.93 L203.39 455.18 L204.72 455.42 L206.07 455.67 L207.43 455.92 L208.80 456.16 L210.18 456.41 L211.58 456.65 L212.99 456.89 L214.41 457.13 L215.84 457.37 L217.29 457.61 L218.74 457.85 L220.22 458.09 L221.70 458.32 L223.20 458.56 L224.71 458.79 L226.24 459.02 L227.78 459.25 L229.33 459.48 L230.90 459.71 L232.48 459.94 L234.08 460.17 L235.69 460.40 L237.31 460.62 L238.95 460.85 L240.60 461.07 L242.27 461.29 L243.95 461.51 L245.65 461.73 L247.37 461.95 L249.10 462.17 L250.84 462.39 L252.60 462.60 L254.38 462.82 L256.17 463.03 L257.98 463.25 L259.80 463.46 L261.64 463.67 L263.50 463.88 L265.37 464.09 L267.26 464.30 L269.17 464.51 L271.09 464.72 L273.03 464.92 L274.99 465.13 L276.97 465.33 L278.96 465.54 L280.98 465.74 L283.01 465.94 L285.05 466.14 L287.12 466.34 L289.21 466.54 L291.31 466.74 L293.43 466.93 L295.58 467.13 L297.74 467.32 L299.92 467.52 L302.12 467.71 L304.34 467.91 L306.58 468.10 L308.84 468.29 L311.12 468.48 L313.42 468.67 L315.74 468.86" class="f2"/>
<path d="M144.02 400.28 L144.83 401.53 L145.64 402.76 L146.45 403.98 L147.28 405.18 L148.11 406.37 L148.95 407.54 L149.79 408.70 L150.65 409.84 L151.51 410.96 L152.38 412.08 L153.26 413.17 L154.14 414.25 L155.04 415.32 L155.94 416.37 L156.85 417.41 L157.76 418.44 L158.69 419.45 L159.62 420.45 L160.57 421.43 L161.52 422.40 L162.48 423.36 L163.44 424.31 L164.42 425.24 L165.41 426.16 L166.40 427.06 L167.40 427.96 L168.42 428.84 L169.44 429.71 L170.47 430.57 L171.51 431.42 L172.56 432.25 L173.61 433.07 L174.68 433.89 L175.76 434.69 L176.85 435.48 L177.94 436.26 L179.05 437.02 L180.17 437.78 L181.29 438.53 L182.43 439.27 L183.58 440.00 L184.73 440.71 L185.90 441.42 L187.08 442.12 L188.27 442.81 L189.47 443.49 L190.68 444.16 L191.90 444.82 L193.13 445.48 L194.37 446.12 L195.62 446.76 L196.89 447.39 L198.17 448.01 L199.45 448.62 L200.75 449.23 L202.06 449.83 L203.39 450.42 L204.72 451.00 L206.07 451.57 L207.43 452.14 L208.80 452.70 L210.18 453.26 L211.58 453.81 L212.99 454.35 L214.41 454.88 L215.84 455.41 L217.29 455.94 L218.74 456.45 L220.22 456.96 L221.70 457.47 L223.20 457.97 L224.71 458.46 L226.24 458.95 L227.78 459.43 L229.33 459.91 L230.90 460.38 L232.48 460.85 L234.08 461.31 L235.69 461.77 L237.31 462.22 L238.95 462.67 L240.60 463.11 L242.27 463.55 L243.95 463.98 L245.65 464.41 L247.37 464.83 L249.10 465.25 L250.84 465.67 L252.60 466.08 L254.38 466.49 L256.17 466.89 L257.98 467.29 L259.80 467.69 L261.64 468.08 L263.50 468.47 L265.37 468.85 L267.26 469.23 L269.17 469.60 L271.09 469.98 L273.03 470.35 L274.99 470.71 L276.97 471.07 L278.96 471.43 L280.98 471.79 L283.01 472.14 L285.05 472.49 L287.12 472.83 L289.21 473.17 L291.31 473.51 L293.43 473.85 L295.58 474.18 L297.74 474.51 L299.92 474.83 L302.12 475.16 L304.34 475.48 L306.58 475.79 L308.84 476.11 L311.12 476.42 L313.42 476.72 L315.74 477.03" class="ci1"/>
<path d="M144.02 424.45 L144.83 425.23 L145.64 426.00 L146.45 426.78 L147.28 427.54 L148.11 428.31 L148.95 429.06 L149.79 429.82 L150.65 430.57 L151.51 431.31 L152.38 432.05 L153.26 432.79 L154.14 433.52 L155.04 434.25 L155.94 434.97 L156.85 435.69 L157.76 436.40 L158.69 437.11 L159.62 437.82 L160.57 438.52 L161.52 439.22 L162.48 439.91 L163.44 440.60 L164.42 441.29 L165.41 441.97 L166.40 442.65 L167.40 443.32 L168.42 443.99 L169.44 444.66 L170.47 445.32 L171.51 445.98 L172.56 446.63 L173.61 447.28 L174.68 447.93 L175.76 448.57 L176.85 449.21 L177.94 449.85 L179.05 450.48 L180.17 451.10 L181.29 451.73 L182.43 452.35 L183.58 452.96 L184.73 453.57 L185.90 454.18 L187.08 454.78 L188.27 455.38 L189.47 455.98 L190.68 456.57 L191.90 457.15 L193.13 457.74 L194.37 458.31 L195.62 458.89 L196.89 459.46 L198.17 460.02 L199.45 460.58 L200.75 461.14 L202.06 461.69 L203.39 462.24 L204.72 462.78 L206.07 463.32 L207.43 463.86 L208.80 464.39 L210.18 464.91 L211.58 465.43 L212.99 465.95 L214.41 466.46 L215.84 466.97 L217.29 467.47 L218.74 467.97 L220.22 468.47 L221.70 468.96 L223.20 469.44 L224.71 469.92 L226.24 470.40 L227.78 470.87 L229.33 471.34 L230.90 471.80 L232.48 472.26 L234.08 472.71 L235.69 473.16 L237.31 473.60 L238.95 474.04 L240.60 474.48 L242.27 474.91 L243.95 475.34 L245.65 475.76 L247.37 476.18 L249.10 476.59 L250.84 477.00 L252.60 477.41 L254.38 477.81 L256.17 478.21 L257.98 478.60 L259.80 478.99 L261.64 479.37 L263.50 479.75 L265.37 480.13 L267.26 480.50 L269.17 480.87 L271.09 481.23 L273.03 481.59 L274.99 481.95 L276.97 482.30 L278.96 482.65 L280.98 483.00 L283.01 483.34 L285.05 483.67 L287.12 484.01 L289.21 484.34 L291.31 484.66 L293.43 484.98 L295.58 485.30 L297.74 485.62 L299.92 485.93 L302.12 486.24 L304.34 486.54 L306.58 486.84 L308.84 487.14 L311.12 487.43 L313.42 487.72 L315.74 488.01" class="ci1"/>
<path d="M144.02 412.36 L144.83 413.38 L145.64 414.38 L146.45 415.38 L147.28 416.36 L148.11 417.34 L148.95 418.30 L149.79 419.26 L150.65 420.20 L151.51 421.14 L152.38 422.06 L153.26 422.98 L154.14 423.89 L155.04 424.78 L155.94 425.67 L156.85 426.55 L157.76 427.42 L158.69 428.28 L159.62 429.13 L160.57 429.98 L161.52 430.81 L162.48 431.64 L163.44 432.45 L164.42 433.26 L165.41 434.06 L166.40 434.86 L167.40 435.64 L168.42 436.42 L169.44 437.18 L170.47 437.94 L171.51 438.70 L172.56 439.44 L173.61 440.18 L174.68 440.91 L175.76 441.63 L176.85 442.34 L177.94 443.05 L179.05 443.75 L180.17 444.44 L181.29 445.13 L182.43 445.81 L183.58 446.48 L184.73 447.14 L185.90 447.80 L187.08 448.45 L188.27 449.10 L189.47 449.73 L190.68 450.36 L191.90 450.99 L193.13 451.61 L194.37 452.22 L195.62 452.82 L196.89 453.42 L198.17 454.02 L199.45 454.60 L200.75 455.18 L202.06 455.76 L203.39 456.33 L204.72 456.89 L206.07 457.45 L207.43 458.00 L208.80 458.55 L210.18 459.09 L211.58 459.62 L212.99 460.15 L214.41 460.67 L215.84 461.19 L217.29 461.70 L218.74 462.21 L220.22 462.71 L221.70 463.21 L223.20 463.70 L224.71 464.19 L226.24 464.67 L227.78 465.15 L229.33 465.62 L230.90 466.09 L232.48 466.55 L234.08 467.01 L235.69 467.46 L237.31 467.91 L238.95 468.36 L240.60 468.79 L242.27 469.23 L243.95 469.66 L245.65 470.09 L247.37 470.51 L249.10 470.92 L250.84 471.34 L252.60 471.74 L254.38 472.15 L256.17 472.55 L257.98 472.95 L259.80 473.34 L261.64 473.73 L263.50 474.11 L265.37 474.49 L267.26 474.86 L269.17 475.24 L271.09 475.61 L273.03 475.97 L274.99 476.33 L276.97 476.69 L278.96 477.04 L280.98 477.39 L283.01 477.74 L285.05 478.08 L287.12 478.42 L289.21 478.75 L291.31 479.09 L293.43 479.41 L295.58 479.74 L297.74 480.06 L299.92 480.38 L302.12 480.70 L304.34 481.01 L306.58 481.32 L308.84 481.62 L311.12 481.93 L313.42 482.22 L315.74 482.52" class="f1" style="stroke-width:2.7"/>
<circle cx="144.4" cy="372.4" r="1.6"/><circle cx="177.7" cy="376.5" r="1.6"/><circle cx="192.1" cy="373.8" r="1.6"/><circle cx="163.8" cy="393.2" r="1.6"/><circle cx="200.3" cy="406.7" r="1.6"/><circle cx="179.4" cy="410.8" r="1.6"/><circle cx="176.8" cy="417.7" r="1.6"/><circle cx="188.1" cy="425.8" r="1.6"/><circle cx="201.5" cy="435.5" r="1.6"/><circle cx="162.6" cy="423.3" r="1.6"/><circle cx="163.4" cy="420.5" r="1.6"/><circle cx="204.4" cy="443.7" r="1.6"/><circle cx="164.6" cy="453.2" r="1.6"/><circle cx="171.7" cy="453.2" r="1.6"/><circle cx="179.4" cy="455.9" r="1.6"/><circle cx="186.5" cy="457.2" r="1.6"/><circle cx="174.8" cy="458.6" r="1.6"/><circle cx="176.8" cy="461.3" r="1.6"/><circle cx="179.9" cy="464.4" r="1.6"/><circle cx="193.2" cy="460.3" r="1.6"/><circle cx="195.7" cy="464.4" r="1.6"/><circle cx="195.2" cy="471" r="1.6"/><circle cx="204.4" cy="469.8" r="1.6"/><circle cx="210" cy="468.8" r="1.6"/><circle cx="212.6" cy="471" r="1.6"/><circle cx="210" cy="479.2" r="1.6"/><circle cx="205.9" cy="465.7" r="1.6"/><circle cx="200.3" cy="462.9" r="1.6"/><circle cx="163.6" cy="442.4" r="1.6"/><circle cx="164.1" cy="446.5" r="1.6"/><circle cx="165.6" cy="449.6" r="1.6"/><circle cx="179.9" cy="439.4" r="1.6"/><circle cx="175.8" cy="438.4" r="1.6"/><circle cx="184" cy="444.5" r="1.6"/><circle cx="188.1" cy="448.6" r="1.6"/><circle cx="191.6" cy="448.1" r="1.6"/><circle cx="198.3" cy="450.6" r="1.6"/><circle cx="200.3" cy="454.7" r="1.6"/><circle cx="203.4" cy="457.8" r="1.6"/><circle cx="206.4" cy="458.8" r="1.6"/><circle cx="210.5" cy="461.8" r="1.6"/><circle cx="212.6" cy="463.9" r="1.6"/><circle cx="220.2" cy="440.9" r="1.6"/><circle cx="225.3" cy="481" r="1.6"/><circle cx="231.9" cy="476.1" r="1.6"/><circle cx="236.5" cy="474.1" r="1.6"/><circle cx="237" cy="475.6" r="1.6"/><circle cx="242.7" cy="478.2" r="1.6"/><circle cx="240.6" cy="474.1" r="1.6"/><circle cx="246.2" cy="475.6" r="1.6"/><circle cx="213.1" cy="462.9" r="1.6"/><circle cx="216.1" cy="464.9" r="1.6"/><circle cx="220.2" cy="466.9" r="1.6"/><circle cx="225.3" cy="468" r="1.6"/><circle cx="230.4" cy="466.4" r="1.6"/><circle cx="235.5" cy="463.9" r="1.6"/><circle cx="241.6" cy="464.9" r="1.6"/><circle cx="246.7" cy="465.9" r="1.6"/><circle cx="252.9" cy="466.9" r="1.6"/><circle cx="258" cy="469" r="1.6"/><circle cx="258" cy="471" r="1.6"/><circle cx="277.3" cy="470" r="1.6"/><circle cx="214" cy="460.8" r="1.6"/><circle cx="222.2" cy="461.8" r="1.6"/><circle cx="228.4" cy="461.8" r="1.6"/><circle cx="232.4" cy="464.9" r="1.6"/><circle cx="308.4" cy="473.8" r="1.6"/><circle cx="289" cy="473.4" r="1.6"/><circle cx="170" cy="447" r="1.6"/><circle cx="183" cy="451" r="1.6"/><circle cx="190" cy="453.5" r="1.6"/><circle cx="157" cy="427" r="1.6"/><circle cx="152" cy="444" r="1.6"/><circle cx="168" cy="436" r="1.6"/><circle cx="150.5" cy="426.9" r="1.6"/><circle cx="153.5" cy="431.1" r="1.6"/><circle cx="155.7" cy="434.0" r="1.6"/><circle cx="158.3" cy="435.6" r="1.6"/><circle cx="159.2" cy="437.0" r="1.6"/><circle cx="161.9" cy="447.6" r="1.6"/><circle cx="164.8" cy="435.4" r="1.6"/><circle cx="165.5" cy="440.7" r="1.6"/><circle cx="168.7" cy="444.4" r="1.6"/><circle cx="171.1" cy="440.5" r="1.6"/><circle cx="173.1" cy="448.9" r="1.6"/><circle cx="175.1" cy="447.3" r="1.6"/><circle cx="176.7" cy="452.0" r="1.6"/><circle cx="179.2" cy="448.5" r="1.6"/><circle cx="181.9" cy="452.0" r="1.6"/><circle cx="184.5" cy="446.4" r="1.6"/><circle cx="185.5" cy="451.2" r="1.6"/><circle cx="188.9" cy="448.5" r="1.6"/><circle cx="190.9" cy="453.7" r="1.6"/><circle cx="191.6" cy="453.6" r="1.6"/><circle cx="195.4" cy="450.2" r="1.6"/><circle cx="196.2" cy="456.0" r="1.6"/><circle cx="198.8" cy="453.2" r="1.6"/><circle cx="201.1" cy="457.9" r="1.6"/><circle cx="203.3" cy="460.6" r="1.6"/><circle cx="206.2" cy="455.2" r="1.6"/><circle cx="208.2" cy="462.9" r="1.6"/><circle cx="208.9" cy="458.4" r="1.6"/><circle cx="212.5" cy="466.1" r="1.6"/><circle cx="214.1" cy="458.7" r="1.6"/><circle cx="205.8" cy="458.3" r="1.6"/><circle cx="207.7" cy="459.6" r="1.6"/><circle cx="211.3" cy="457.6" r="1.6"/><circle cx="213.8" cy="459.3" r="1.6"/><circle cx="215.1" cy="458.3" r="1.6"/><circle cx="217.7" cy="460.1" r="1.6"/><circle cx="221.1" cy="461.1" r="1.6"/><circle cx="223.1" cy="460.1" r="1.6"/><circle cx="226.6" cy="464.7" r="1.6"/><circle cx="228.5" cy="461.4" r="1.6"/><circle cx="232.4" cy="467.4" r="1.6"/><circle cx="233.2" cy="464.7" r="1.6"/><circle cx="235.4" cy="465.3" r="1.6"/><circle cx="239.5" cy="466.0" r="1.6"/><circle cx="240.5" cy="462.2" r="1.6"/><circle cx="243.4" cy="463.9" r="1.6"/>
<path d="M469.10 304.20V519.50M460.10 511.00H779.10" stroke="#111" stroke-width="2.2" fill="none"/>
<path d="M460.10 511.00H470.20" stroke="#111" stroke-width="2.2"/>
<text transform="translate(456.50 516.00) scale(1 1.12)" text-anchor="end" class="t">0.0</text>
<path d="M460.10 442.43H470.20" stroke="#111" stroke-width="2.2"/>
<text transform="translate(456.50 447.43) scale(1 1.12)" text-anchor="end" class="t">0.5</text>
<path d="M460.10 373.87H470.20" stroke="#111" stroke-width="2.2"/>
<text transform="translate(456.50 378.87) scale(1 1.12)" text-anchor="end" class="t">1.0</text>
<path d="M460.10 305.30H470.20" stroke="#111" stroke-width="2.2"/>
<text transform="translate(456.50 310.30) scale(1 1.12)" text-anchor="end" class="t">1.5</text>
<path d="M469.10 509.90V519.50" stroke="#111" stroke-width="2.2"/>
<text transform="translate(468.10 535.20) scale(1 1.12)" text-anchor="middle" class="t">0</text>
<path d="M572.07 509.90V519.50" stroke="#111" stroke-width="2.2"/>
<text transform="translate(571.07 535.20) scale(1 1.12)" text-anchor="middle" class="t">20</text>
<path d="M675.03 509.90V519.50" stroke="#111" stroke-width="2.2"/>
<text transform="translate(674.03 535.20) scale(1 1.12)" text-anchor="middle" class="t">40</text>
<path d="M778.00 509.90V519.50" stroke="#111" stroke-width="2.2"/>
<text transform="translate(777.00 535.20) scale(1 1.12)" text-anchor="middle" class="t">60</text>
<text x="623.55" y="560.20" text-anchor="middle" class="xl" style="font-size:14.3px">BWH [kg/m]</text>
<text x="418.10" y="560.70" class="pl">D</text>
<text transform="translate(430.30 505.50) rotate(-90)" class="yl">SNRnorm liver [(MBq.min)<tspan dy="-7.2" font-size="10">-0.5</tspan><tspan dy="7.2">]</tspan></text>
<path d="M571.80 319.10h22.2" stroke="#111" stroke-width="2.7"/>
<path d="M571.80 346.90h22.2" stroke="#111" stroke-width="1.6"/>
<text x="606.80" y="326.80" class="lg">SNRnorm liver,fit = α p<tspan dy="-5.2" font-size="10.5">-d</tspan></text>
<text x="606.80" y="354.30" class="lg">SNRnorm liver,fit = α p<tspan dy="-5.2" font-size="10.5">-0.5</tspan></text>
<path d="M502.56 387.49 L503.17 388.59 L503.78 389.67 L504.40 390.75 L505.04 391.82 L505.68 392.88 L506.34 393.92 L507.01 394.96 L507.69 395.99 L508.39 397.01 L509.09 398.02 L509.81 399.03 L510.55 400.02 L511.29 401.00 L512.05 401.98 L512.82 402.95 L513.61 403.91 L514.41 404.86 L515.22 405.80 L516.05 406.73 L516.90 407.66 L517.76 408.57 L518.63 409.48 L519.52 410.38 L520.43 411.28 L521.35 412.16 L522.29 413.04 L523.25 413.91 L524.22 414.77 L525.21 415.62 L526.22 416.47 L527.25 417.31 L528.30 418.14 L529.36 418.96 L530.45 419.78 L531.55 420.59 L532.67 421.39 L533.82 422.19 L534.98 422.97 L536.16 423.76 L537.37 424.53 L538.60 425.30 L539.85 426.06 L541.12 426.81 L542.42 427.56 L543.73 428.30 L545.08 429.03 L546.44 429.76 L547.83 430.48 L549.25 431.19 L550.69 431.90 L552.16 432.60 L553.65 433.30 L555.17 433.99 L556.72 434.67 L558.30 435.35 L559.90 436.02 L561.53 436.69 L563.20 437.35 L564.89 438.00 L566.61 438.65 L568.36 439.29 L570.15 439.93 L571.97 440.56 L573.82 441.18 L575.70 441.80 L577.62 442.41 L579.57 443.02 L581.56 443.63 L583.58 444.22 L585.64 444.82 L587.73 445.40 L589.87 445.99 L592.04 446.56 L594.25 447.13 L596.50 447.70 L598.79 448.26 L601.12 448.82 L603.50 449.37 L605.92 449.92 L608.38 450.46 L610.88 451.00 L613.43 451.53 L616.03 452.06 L618.67 452.58 L621.36 453.10 L624.10 453.61 L626.89 454.12 L629.72 454.63 L632.61 455.13 L635.55 455.62 L638.55 456.11 L641.59 456.60 L644.70 457.08 L647.85 457.56 L651.07 458.04 L654.34 458.51 L657.67 458.97 L661.06 459.43 L664.52 459.89 L668.03 460.34 L671.61 460.79 L675.25 461.24 L678.96 461.68 L682.73 462.12 L686.57 462.55 L690.49 462.98 L694.47 463.41 L698.52 463.83 L702.65 464.25 L706.85 464.66 L711.12 465.07 L715.48 465.48 L719.91 465.89 L724.42 466.29 L729.01 466.68 L733.68 467.08 L738.44 467.47 L743.29 467.85 L748.22 468.23 L753.24 468.61" class="ci2"/>
<path d="M502.56 396.76 L503.17 397.78 L503.78 398.78 L504.40 399.78 L505.04 400.76 L505.68 401.74 L506.34 402.71 L507.01 403.67 L507.69 404.63 L508.39 405.57 L509.09 406.50 L509.81 407.43 L510.55 408.35 L511.29 409.26 L512.05 410.16 L512.82 411.06 L513.61 411.95 L514.41 412.82 L515.22 413.70 L516.05 414.56 L516.90 415.41 L517.76 416.26 L518.63 417.10 L519.52 417.94 L520.43 418.76 L521.35 419.58 L522.29 420.39 L523.25 421.20 L524.22 421.99 L525.21 422.78 L526.22 423.57 L527.25 424.34 L528.30 425.11 L529.36 425.87 L530.45 426.63 L531.55 427.38 L532.67 428.12 L533.82 428.85 L534.98 429.58 L536.16 430.30 L537.37 431.02 L538.60 431.73 L539.85 432.43 L541.12 433.13 L542.42 433.82 L543.73 434.51 L545.08 435.19 L546.44 435.86 L547.83 436.52 L549.25 437.19 L550.69 437.84 L552.16 438.49 L553.65 439.13 L555.17 439.77 L556.72 440.40 L558.30 441.03 L559.90 441.65 L561.53 442.27 L563.20 442.88 L564.89 443.48 L566.61 444.08 L568.36 444.67 L570.15 445.26 L571.97 445.84 L573.82 446.42 L575.70 447.00 L577.62 447.56 L579.57 448.13 L581.56 448.68 L583.58 449.24 L585.64 449.78 L587.73 450.33 L589.87 450.87 L592.04 451.40 L594.25 451.93 L596.50 452.45 L598.79 452.97 L601.12 453.49 L603.50 454.00 L605.92 454.50 L608.38 455.00 L610.88 455.50 L613.43 455.99 L616.03 456.48 L618.67 456.97 L621.36 457.45 L624.10 457.92 L626.89 458.39 L629.72 458.86 L632.61 459.32 L635.55 459.78 L638.55 460.23 L641.59 460.68 L644.70 461.13 L647.85 461.57 L651.07 462.01 L654.34 462.45 L657.67 462.88 L661.06 463.30 L664.52 463.73 L668.03 464.15 L671.61 464.56 L675.25 464.97 L678.96 465.38 L682.73 465.79 L686.57 466.19 L690.49 466.59 L694.47 466.98 L698.52 467.37 L702.65 467.76 L706.85 468.14 L711.12 468.52 L715.48 468.90 L719.91 469.27 L724.42 469.64 L729.01 470.01 L733.68 470.37 L738.44 470.73 L743.29 471.09 L748.22 471.45 L753.24 471.80" class="ci2"/>
<path d="M502.56 392.13 L503.17 393.18 L503.78 394.23 L504.40 395.26 L505.04 396.29 L505.68 397.31 L506.34 398.32 L507.01 399.32 L507.69 400.31 L508.39 401.29 L509.09 402.26 L509.81 403.23 L510.55 404.19 L511.29 405.13 L512.05 406.07 L512.82 407.00 L513.61 407.93 L514.41 408.84 L515.22 409.75 L516.05 410.65 L516.90 411.54 L517.76 412.42 L518.63 413.29 L519.52 414.16 L520.43 415.02 L521.35 415.87 L522.29 416.71 L523.25 417.55 L524.22 418.38 L525.21 419.20 L526.22 420.02 L527.25 420.82 L528.30 421.62 L529.36 422.42 L530.45 423.20 L531.55 423.98 L532.67 424.75 L533.82 425.52 L534.98 426.28 L536.16 427.03 L537.37 427.77 L538.60 428.51 L539.85 429.25 L541.12 429.97 L542.42 430.69 L543.73 431.40 L545.08 432.11 L546.44 432.81 L547.83 433.50 L549.25 434.19 L550.69 434.87 L552.16 435.55 L553.65 436.22 L555.17 436.88 L556.72 437.54 L558.30 438.19 L559.90 438.84 L561.53 439.48 L563.20 440.11 L564.89 440.74 L566.61 441.36 L568.36 441.98 L570.15 442.59 L571.97 443.20 L573.82 443.80 L575.70 444.40 L577.62 444.99 L579.57 445.57 L581.56 446.15 L583.58 446.73 L585.64 447.30 L587.73 447.87 L589.87 448.43 L592.04 448.98 L594.25 449.53 L596.50 450.08 L598.79 450.62 L601.12 451.15 L603.50 451.68 L605.92 452.21 L608.38 452.73 L610.88 453.25 L613.43 453.76 L616.03 454.27 L618.67 454.77 L621.36 455.27 L624.10 455.77 L626.89 456.26 L629.72 456.74 L632.61 457.22 L635.55 457.70 L638.55 458.17 L641.59 458.64 L644.70 459.11 L647.85 459.57 L651.07 460.02 L654.34 460.48 L657.67 460.92 L661.06 461.37 L664.52 461.81 L668.03 462.25 L671.61 462.68 L675.25 463.11 L678.96 463.53 L682.73 463.95 L686.57 464.37 L690.49 464.78 L694.47 465.19 L698.52 465.60 L702.65 466.00 L706.85 466.40 L711.12 466.80 L715.48 467.19 L719.91 467.58 L724.42 467.96 L729.01 468.35 L733.68 468.72 L738.44 469.10 L743.29 469.47 L748.22 469.84 L753.24 470.21" class="f2"/>
<path d="M502.56 338.30 L503.17 340.63 L503.78 342.92 L504.40 345.18 L505.04 347.41 L505.68 349.60 L506.34 351.77 L507.01 353.91 L507.69 356.01 L508.39 358.09 L509.09 360.14 L509.81 362.16 L510.55 364.15 L511.29 366.12 L512.05 368.05 L512.82 369.96 L513.61 371.85 L514.41 373.71 L515.22 375.54 L516.05 377.34 L516.90 379.12 L517.76 380.88 L518.63 382.61 L519.52 384.32 L520.43 386.00 L521.35 387.66 L522.29 389.30 L523.25 390.91 L524.22 392.50 L525.21 394.07 L526.22 395.62 L527.25 397.14 L528.30 398.64 L529.36 400.13 L530.45 401.59 L531.55 403.03 L532.67 404.45 L533.82 405.85 L534.98 407.24 L536.16 408.60 L537.37 409.94 L538.60 411.27 L539.85 412.57 L541.12 413.86 L542.42 415.13 L543.73 416.38 L545.08 417.62 L546.44 418.83 L547.83 420.03 L549.25 421.22 L550.69 422.39 L552.16 423.54 L553.65 424.67 L555.17 425.79 L556.72 426.89 L558.30 427.98 L559.90 429.05 L561.53 430.11 L563.20 431.16 L564.89 432.18 L566.61 433.20 L568.36 434.20 L570.15 435.19 L571.97 436.16 L573.82 437.12 L575.70 438.07 L577.62 439.00 L579.57 439.92 L581.56 440.83 L583.58 441.72 L585.64 442.61 L587.73 443.48 L589.87 444.34 L592.04 445.18 L594.25 446.02 L596.50 446.84 L598.79 447.66 L601.12 448.46 L603.50 449.25 L605.92 450.03 L608.38 450.80 L610.88 451.56 L613.43 452.31 L616.03 453.05 L618.67 453.78 L621.36 454.50 L624.10 455.21 L626.89 455.91 L629.72 456.60 L632.61 457.29 L635.55 457.96 L638.55 458.62 L641.59 459.28 L644.70 459.93 L647.85 460.56 L651.07 461.19 L654.34 461.82 L657.67 462.43 L661.06 463.03 L664.52 463.63 L668.03 464.22 L671.61 464.80 L675.25 465.38 L678.96 465.94 L682.73 466.50 L686.57 467.06 L690.49 467.60 L694.47 468.14 L698.52 468.67 L702.65 469.19 L706.85 469.71 L711.12 470.22 L715.48 470.73 L719.91 471.22 L724.42 471.72 L729.01 472.20 L733.68 472.68 L738.44 473.15 L743.29 473.62 L748.22 474.08 L753.24 474.53" class="ci1"/>
<path d="M502.56 366.72 L503.17 368.49 L503.78 370.23 L504.40 371.96 L505.04 373.67 L505.68 375.35 L506.34 377.02 L507.01 378.66 L507.69 380.29 L508.39 381.90 L509.09 383.49 L509.81 385.06 L510.55 386.62 L511.29 388.15 L512.05 389.67 L512.82 391.17 L513.61 392.65 L514.41 394.12 L515.22 395.57 L516.05 397.00 L516.90 398.41 L517.76 399.81 L518.63 401.19 L519.52 402.56 L520.43 403.91 L521.35 405.25 L522.29 406.57 L523.25 407.87 L524.22 409.16 L525.21 410.43 L526.22 411.69 L527.25 412.94 L528.30 414.17 L529.36 415.39 L530.45 416.59 L531.55 417.78 L532.67 418.95 L533.82 420.11 L534.98 421.26 L536.16 422.39 L537.37 423.51 L538.60 424.62 L539.85 425.72 L541.12 426.80 L542.42 427.87 L543.73 428.93 L545.08 429.97 L546.44 431.01 L547.83 432.03 L549.25 433.04 L550.69 434.03 L552.16 435.02 L553.65 435.99 L555.17 436.96 L556.72 437.91 L558.30 438.85 L559.90 439.78 L561.53 440.70 L563.20 441.60 L564.89 442.50 L566.61 443.39 L568.36 444.26 L570.15 445.13 L571.97 445.98 L573.82 446.83 L575.70 447.66 L577.62 448.49 L579.57 449.30 L581.56 450.11 L583.58 450.90 L585.64 451.69 L587.73 452.47 L589.87 453.23 L592.04 453.99 L594.25 454.74 L596.50 455.48 L598.79 456.21 L601.12 456.93 L603.50 457.65 L605.92 458.35 L608.38 459.05 L610.88 459.73 L613.43 460.41 L616.03 461.08 L618.67 461.74 L621.36 462.40 L624.10 463.04 L626.89 463.68 L629.72 464.31 L632.61 464.93 L635.55 465.55 L638.55 466.16 L641.59 466.75 L644.70 467.35 L647.85 467.93 L651.07 468.51 L654.34 469.08 L657.67 469.64 L661.06 470.19 L664.52 470.74 L668.03 471.28 L671.61 471.82 L675.25 472.34 L678.96 472.86 L682.73 473.38 L686.57 473.89 L690.49 474.39 L694.47 474.88 L698.52 475.37 L702.65 475.85 L706.85 476.33 L711.12 476.80 L715.48 477.26 L719.91 477.72 L724.42 478.17 L729.01 478.61 L733.68 479.05 L738.44 479.49 L743.29 479.92 L748.22 480.34 L753.24 480.76" class="ci1"/>
<path d="M502.56 352.51 L503.17 354.56 L503.78 356.58 L504.40 358.57 L505.04 360.54 L505.68 362.48 L506.34 364.39 L507.01 366.29 L507.69 368.15 L508.39 370.00 L509.09 371.82 L509.81 373.61 L510.55 375.38 L511.29 377.13 L512.05 378.86 L512.82 380.57 L513.61 382.25 L514.41 383.91 L515.22 385.55 L516.05 387.17 L516.90 388.77 L517.76 390.34 L518.63 391.90 L519.52 393.44 L520.43 394.95 L521.35 396.45 L522.29 397.93 L523.25 399.39 L524.22 400.83 L525.21 402.25 L526.22 403.65 L527.25 405.04 L528.30 406.41 L529.36 407.76 L530.45 409.09 L531.55 410.40 L532.67 411.70 L533.82 412.98 L534.98 414.25 L536.16 415.50 L537.37 416.73 L538.60 417.94 L539.85 419.15 L541.12 420.33 L542.42 421.50 L543.73 422.66 L545.08 423.80 L546.44 424.92 L547.83 426.03 L549.25 427.13 L550.69 428.21 L552.16 429.28 L553.65 430.33 L555.17 431.37 L556.72 432.40 L558.30 433.41 L559.90 434.42 L561.53 435.40 L563.20 436.38 L564.89 437.34 L566.61 438.29 L568.36 439.23 L570.15 440.16 L571.97 441.07 L573.82 441.97 L575.70 442.86 L577.62 443.74 L579.57 444.61 L581.56 445.47 L583.58 446.31 L585.64 447.15 L587.73 447.97 L589.87 448.79 L592.04 449.59 L594.25 450.38 L596.50 451.16 L598.79 451.93 L601.12 452.70 L603.50 453.45 L605.92 454.19 L608.38 454.92 L610.88 455.65 L613.43 456.36 L616.03 457.07 L618.67 457.76 L621.36 458.45 L624.10 459.13 L626.89 459.80 L629.72 460.46 L632.61 461.11 L635.55 461.75 L638.55 462.39 L641.59 463.02 L644.70 463.64 L647.85 464.25 L651.07 464.85 L654.34 465.45 L657.67 466.03 L661.06 466.61 L664.52 467.19 L668.03 467.75 L671.61 468.31 L675.25 468.86 L678.96 469.40 L682.73 469.94 L686.57 470.47 L690.49 470.99 L694.47 471.51 L698.52 472.02 L702.65 472.52 L706.85 473.02 L711.12 473.51 L715.48 473.99 L719.91 474.47 L724.42 474.94 L729.01 475.41 L733.68 475.87 L738.44 476.32 L743.29 476.77 L748.22 477.21 L753.24 477.64" class="f1" style="stroke-width:2.7"/>
<circle cx="503.7" cy="372.3" r="1.6"/><circle cx="534.3" cy="373.7" r="1.6"/><circle cx="537.1" cy="376.6" r="1.6"/><circle cx="536.1" cy="393.1" r="1.6"/><circle cx="552.7" cy="406.5" r="1.6"/><circle cx="546.4" cy="410.7" r="1.6"/><circle cx="562.8" cy="417.6" r="1.6"/><circle cx="541.8" cy="443.4" r="1.6"/><circle cx="543.4" cy="438.3" r="1.6"/><circle cx="548.5" cy="442" r="1.6"/><circle cx="550" cy="437.8" r="1.6"/><circle cx="564.1" cy="450.2" r="1.6"/><circle cx="567.9" cy="453.1" r="1.6"/><circle cx="568.9" cy="449.5" r="1.6"/><circle cx="522.4" cy="404.3" r="1.6"/><circle cx="526.3" cy="409.4" r="1.6"/><circle cx="530.6" cy="413.8" r="1.6"/><circle cx="534.7" cy="418.4" r="1.6"/><circle cx="538.8" cy="421.9" r="1.6"/><circle cx="538.6" cy="424.5" r="1.6"/><circle cx="542.9" cy="426.7" r="1.6"/><circle cx="547.4" cy="430.1" r="1.6"/><circle cx="594" cy="425.8" r="1.6"/><circle cx="607.8" cy="435.3" r="1.6"/><circle cx="597.8" cy="439.6" r="1.6"/><circle cx="593.3" cy="440.6" r="1.6"/><circle cx="588.9" cy="443.2" r="1.6"/><circle cx="618.5" cy="447.8" r="1.6"/><circle cx="624.6" cy="450.3" r="1.6"/><circle cx="582.8" cy="453.4" r="1.6"/><circle cx="570" cy="451.8" r="1.6"/><circle cx="597" cy="457.4" r="1.6"/><circle cx="599.6" cy="461.5" r="1.6"/><circle cx="599.6" cy="463.1" r="1.6"/><circle cx="603.2" cy="464.1" r="1.6"/><circle cx="606.7" cy="461" r="1.6"/><circle cx="608.6" cy="464.1" r="1.6"/><circle cx="625.9" cy="468.2" r="1.6"/><circle cx="627.7" cy="471.2" r="1.6"/><circle cx="634.5" cy="469.7" r="1.6"/><circle cx="649.1" cy="471.2" r="1.6"/><circle cx="627.1" cy="465.6" r="1.6"/><circle cx="649.4" cy="471.3" r="1.6"/><circle cx="654.3" cy="469.3" r="1.6"/><circle cx="668.1" cy="476.7" r="1.6"/><circle cx="672.4" cy="475.2" r="1.6"/><circle cx="686.4" cy="478" r="1.6"/><circle cx="701.7" cy="480.5" r="1.6"/><circle cx="734.5" cy="483.3" r="1.6"/><circle cx="560.4" cy="439.9" r="1.6"/><circle cx="562.0" cy="440.2" r="1.6"/><circle cx="563.6" cy="434.2" r="1.6"/><circle cx="566.6" cy="444.5" r="1.6"/><circle cx="568.3" cy="442.2" r="1.6"/><circle cx="569.2" cy="445.5" r="1.6"/><circle cx="570.8" cy="444.3" r="1.6"/><circle cx="573.8" cy="445.3" r="1.6"/><circle cx="575.4" cy="446.6" r="1.6"/><circle cx="576.0" cy="440.4" r="1.6"/><circle cx="578.0" cy="442.7" r="1.6"/><circle cx="580.7" cy="443.7" r="1.6"/><circle cx="582.5" cy="450.9" r="1.6"/><circle cx="583.9" cy="450.1" r="1.6"/><circle cx="585.3" cy="450.1" r="1.6"/><circle cx="586.3" cy="451.9" r="1.6"/><circle cx="589.6" cy="452.5" r="1.6"/><circle cx="590.2" cy="447.8" r="1.6"/><circle cx="593.0" cy="446.1" r="1.6"/><circle cx="594.6" cy="449.3" r="1.6"/><circle cx="595.8" cy="449.0" r="1.6"/><circle cx="597.4" cy="454.7" r="1.6"/><circle cx="598.7" cy="451.4" r="1.6"/><circle cx="600.2" cy="458.4" r="1.6"/><circle cx="602.0" cy="452.5" r="1.6"/><circle cx="604.6" cy="453.2" r="1.6"/><circle cx="606.2" cy="450.0" r="1.6"/><circle cx="607.5" cy="463.7" r="1.6"/><circle cx="609.6" cy="457.4" r="1.6"/><circle cx="611.1" cy="460.4" r="1.6"/><circle cx="613.0" cy="457.0" r="1.6"/><circle cx="615.1" cy="455.1" r="1.6"/><circle cx="617.4" cy="459.0" r="1.6"/><circle cx="618.0" cy="458.9" r="1.6"/><circle cx="620.7" cy="457.4" r="1.6"/><circle cx="621.7" cy="457.8" r="1.6"/><circle cx="623.1" cy="458.7" r="1.6"/><circle cx="625.8" cy="460.3" r="1.6"/><circle cx="627.9" cy="464.9" r="1.6"/><circle cx="629.7" cy="459.7" r="1.6"/><circle cx="629.8" cy="459.2" r="1.6"/><circle cx="632.9" cy="468.7" r="1.6"/><circle cx="634.0" cy="465.5" r="1.6"/><circle cx="636.5" cy="461.0" r="1.6"/><circle cx="637.3" cy="463.6" r="1.6"/><circle cx="638.8" cy="465.6" r="1.6"/><circle cx="641.0" cy="465.6" r="1.6"/><circle cx="642.1" cy="462.8" r="1.6"/><circle cx="643.9" cy="466.1" r="1.6"/><circle cx="646.2" cy="468.4" r="1.6"/><circle cx="647.8" cy="470.9" r="1.6"/><circle cx="649.8" cy="469.3" r="1.6"/><circle cx="651.1" cy="465.9" r="1.6"/><circle cx="652.8" cy="465.6" r="1.6"/><circle cx="655.4" cy="466.2" r="1.6"/><circle cx="656.9" cy="466.6" r="1.6"/><circle cx="658.2" cy="467.6" r="1.6"/><circle cx="660.4" cy="466.5" r="1.6"/><circle cx="662.6" cy="459.9" r="1.6"/><circle cx="663.8" cy="471.5" r="1.6"/><circle cx="665.1" cy="466.6" r="1.6"/><circle cx="667.2" cy="468.0" r="1.6"/><circle cx="668.7" cy="471.8" r="1.6"/><circle cx="670.8" cy="464.7" r="1.6"/><circle cx="671.8" cy="468.2" r="1.6"/><circle cx="673.8" cy="470.6" r="1.6"/><circle cx="675.6" cy="469.8" r="1.6"/><circle cx="677.0" cy="467.9" r="1.6"/><circle cx="680.3" cy="461.6" r="1.6"/><circle cx="681.1" cy="466.1" r="1.6"/><circle cx="683.8" cy="467.1" r="1.6"/><circle cx="685.2" cy="466.0" r="1.6"/><circle cx="686.5" cy="471.8" r="1.6"/><circle cx="688.9" cy="471.6" r="1.6"/><circle cx="690.7" cy="473.0" r="1.6"/><circle cx="692.1" cy="469.8" r="1.6"/><circle cx="694.1" cy="467.9" r="1.6"/><circle cx="695.3" cy="467.3" r="1.6"/><circle cx="697.3" cy="470.7" r="1.6"/><circle cx="699.5" cy="469.8" r="1.6"/><circle cx="701.3" cy="478.7" r="1.6"/><circle cx="703.1" cy="475.6" r="1.6"/><circle cx="704.3" cy="478.1" r="1.6"/><circle cx="705.1" cy="474.1" r="1.6"/><circle cx="708.3" cy="472.3" r="1.6"/><circle cx="708.7" cy="472.0" r="1.6"/><circle cx="711.2" cy="468.9" r="1.6"/><circle cx="713.5" cy="471.4" r="1.6"/><circle cx="714.0" cy="479.7" r="1.6"/><circle cx="715.4" cy="473.7" r="1.6"/><circle cx="718.6" cy="477.7" r="1.6"/><circle cx="720.2" cy="477.4" r="1.6"/><circle cx="722.1" cy="468.8" r="1.6"/><circle cx="722.7" cy="472.5" r="1.6"/><circle cx="725.2" cy="471.7" r="1.6"/><circle cx="727.2" cy="479.9" r="1.6"/><circle cx="728.4" cy="474.2" r="1.6"/><circle cx="729.4" cy="474.8" r="1.6"/><circle cx="732.1" cy="469.6" r="1.6"/><circle cx="733.9" cy="475.7" r="1.6"/><circle cx="734.8" cy="472.3" r="1.6"/><circle cx="737.2" cy="479.3" r="1.6"/><circle cx="738.1" cy="478.5" r="1.6"/><circle cx="739.9" cy="471.4" r="1.6"/><circle cx="742.5" cy="472.5" r="1.6"/><circle cx="743.8" cy="479.6" r="1.6"/><circle cx="745.4" cy="469.1" r="1.6"/><circle cx="746.9" cy="477.1" r="1.6"/><circle cx="748.7" cy="472.4" r="1.6"/><circle cx="751.1" cy="472.8" r="1.6"/>
<path d="M56.50 602.70V818.30M47.50 809.80H366.30" stroke="#111" stroke-width="2.2" fill="none"/>
<path d="M47.50 809.80H57.60" stroke="#111" stroke-width="2.2"/>
<text transform="translate(41.60 814.80) scale(1 1.12)" text-anchor="end" class="t">0.0</text>
<path d="M47.50 741.13H57.60" stroke="#111" stroke-width="2.2"/>
<text transform="translate(41.60 746.13) scale(1 1.12)" text-anchor="end" class="t">0.5</text>
<path d="M47.50 672.47H57.60" stroke="#111" stroke-width="2.2"/>
<text transform="translate(41.60 677.47) scale(1 1.12)" text-anchor="end" class="t">1.0</text>
<path d="M47.50 603.80H57.60" stroke="#111" stroke-width="2.2"/>
<text transform="translate(41.60 608.80) scale(1 1.12)" text-anchor="end" class="t">1.5</text>
<path d="M56.50 808.70V818.30" stroke="#111" stroke-width="2.2"/>
<text transform="translate(55.50 835.20) scale(1 1.12)" text-anchor="middle" class="t">0</text>
<path d="M159.40 808.70V818.30" stroke="#111" stroke-width="2.2"/>
<text transform="translate(158.40 835.20) scale(1 1.12)" text-anchor="middle" class="t">1</text>
<path d="M262.30 808.70V818.30" stroke="#111" stroke-width="2.2"/>
<text transform="translate(261.30 835.20) scale(1 1.12)" text-anchor="middle" class="t">2</text>
<path d="M365.20 808.70V818.30" stroke="#111" stroke-width="2.2"/>
<text transform="translate(364.20 835.20) scale(1 1.12)" text-anchor="middle" class="t">3</text>
<text x="210.85" y="861.30" text-anchor="middle" class="xl" style="font-size:13.6px">BSA [m<tspan dy="-5.6" font-size="10.5">2</tspan><tspan dy="5.6">]</tspan></text>
<text x="7.50" y="860.50" class="pl">E</text>
<text transform="translate(15.60 804.20) rotate(-90)" class="yl">SNRnorm liver [(MBq.min)<tspan dy="-7.2" font-size="10">-0.5</tspan><tspan dy="7.2">]</tspan></text>
<path d="M159.20 620.00h22.2" stroke="#111" stroke-width="2.7"/>
<path d="M159.20 647.80h22.2" stroke="#111" stroke-width="1.6"/>
<text x="194.20" y="627.70" class="lg">SNRnorm liver,fit = α p<tspan dy="-5.2" font-size="10.5">-d</tspan></text>
<text x="194.20" y="655.20" class="lg">SNRnorm liver,fit = α p<tspan dy="-5.2" font-size="10.5">-0.5</tspan></text>
<path d="M83.15 670.04 L83.66 671.35 L84.18 672.66 L84.71 673.95 L85.25 675.23 L85.80 676.50 L86.36 677.76 L86.93 679.00 L87.51 680.23 L88.10 681.45 L88.71 682.66 L89.32 683.86 L89.95 685.05 L90.59 686.22 L91.24 687.39 L91.90 688.54 L92.58 689.68 L93.27 690.81 L93.97 691.94 L94.69 693.05 L95.42 694.15 L96.16 695.24 L96.92 696.31 L97.69 697.38 L98.48 698.44 L99.28 699.49 L100.10 700.53 L100.94 701.56 L101.78 702.58 L102.65 703.59 L103.53 704.59 L104.43 705.58 L105.35 706.57 L106.28 707.54 L107.23 708.50 L108.20 709.46 L109.19 710.40 L110.20 711.34 L111.22 712.27 L112.27 713.18 L113.34 714.09 L114.42 715.00 L115.53 715.89 L116.66 716.77 L117.81 717.65 L118.98 718.52 L120.17 719.38 L121.39 720.23 L122.63 721.08 L123.89 721.91 L125.18 722.74 L126.50 723.56 L127.83 724.37 L129.20 725.18 L130.59 725.97 L132.00 726.76 L133.45 727.55 L134.92 728.32 L136.42 729.09 L137.94 729.85 L139.50 730.60 L141.09 731.35 L142.70 732.09 L144.35 732.82 L146.03 733.55 L147.74 734.26 L149.48 734.98 L151.26 735.68 L153.07 736.38 L154.92 737.07 L156.80 737.76 L158.72 738.44 L160.67 739.11 L162.66 739.77 L164.69 740.43 L166.76 741.09 L168.87 741.73 L171.01 742.38 L173.20 743.01 L175.43 743.64 L177.71 744.26 L180.02 744.88 L182.38 745.49 L184.79 746.10 L187.24 746.70 L189.74 747.29 L192.29 747.88 L194.88 748.47 L197.53 749.04 L200.23 749.62 L202.97 750.18 L205.77 750.74 L208.62 751.30 L211.53 751.85 L214.50 752.40 L217.52 752.94 L220.59 753.48 L223.73 754.01 L226.93 754.53 L230.18 755.05 L233.50 755.57 L236.89 756.08 L240.33 756.59 L243.85 757.09 L247.43 757.58 L251.08 758.08 L254.80 758.56 L258.59 759.05 L262.45 759.52 L266.39 760.00 L270.40 760.47 L274.49 760.93 L278.65 761.39 L282.90 761.85 L287.23 762.30 L291.64 762.75 L296.13 763.19 L300.71 763.63 L305.38 764.06 L310.14 764.50 L314.98 764.92" class="ci2"/>
<path d="M83.15 680.79 L83.66 682.00 L84.18 683.21 L84.71 684.40 L85.25 685.58 L85.80 686.75 L86.36 687.91 L86.93 689.06 L87.51 690.20 L88.10 691.33 L88.71 692.44 L89.32 693.55 L89.95 694.64 L90.59 695.73 L91.24 696.80 L91.90 697.87 L92.58 698.92 L93.27 699.97 L93.97 701.00 L94.69 702.03 L95.42 703.04 L96.16 704.05 L96.92 705.04 L97.69 706.03 L98.48 707.01 L99.28 707.98 L100.10 708.94 L100.94 709.89 L101.78 710.83 L102.65 711.76 L103.53 712.68 L104.43 713.60 L105.35 714.51 L106.28 715.40 L107.23 716.29 L108.20 717.17 L109.19 718.05 L110.20 718.91 L111.22 719.77 L112.27 720.62 L113.34 721.46 L114.42 722.29 L115.53 723.11 L116.66 723.93 L117.81 724.74 L118.98 725.54 L120.17 726.33 L121.39 727.12 L122.63 727.90 L123.89 728.67 L125.18 729.44 L126.50 730.19 L127.83 730.94 L129.20 731.69 L130.59 732.42 L132.00 733.15 L133.45 733.87 L134.92 734.59 L136.42 735.30 L137.94 736.00 L139.50 736.70 L141.09 737.38 L142.70 738.07 L144.35 738.74 L146.03 739.41 L147.74 740.07 L149.48 740.73 L151.26 741.38 L153.07 742.03 L154.92 742.67 L156.80 743.30 L158.72 743.92 L160.67 744.55 L162.66 745.16 L164.69 745.77 L166.76 746.37 L168.87 746.97 L171.01 747.56 L173.20 748.15 L175.43 748.73 L177.71 749.30 L180.02 749.87 L182.38 750.44 L184.79 751.00 L187.24 751.55 L189.74 752.10 L192.29 752.65 L194.88 753.18 L197.53 753.72 L200.23 754.25 L202.97 754.77 L205.77 755.29 L208.62 755.80 L211.53 756.31 L214.50 756.81 L217.52 757.31 L220.59 757.81 L223.73 758.30 L226.93 758.78 L230.18 759.26 L233.50 759.74 L236.89 760.21 L240.33 760.68 L243.85 761.14 L247.43 761.60 L251.08 762.05 L254.80 762.50 L258.59 762.95 L262.45 763.39 L266.39 763.83 L270.40 764.26 L274.49 764.69 L278.65 765.12 L282.90 765.54 L287.23 765.95 L291.64 766.37 L296.13 766.78 L300.71 767.18 L305.38 767.58 L310.14 767.98 L314.98 768.37" class="ci2"/>
<path d="M83.15 675.41 L83.66 676.68 L84.18 677.93 L84.71 679.18 L85.25 680.41 L85.80 681.63 L86.36 682.83 L86.93 684.03 L87.51 685.22 L88.10 686.39 L88.71 687.55 L89.32 688.70 L89.95 689.84 L90.59 690.97 L91.24 692.09 L91.90 693.20 L92.58 694.30 L93.27 695.39 L93.97 696.47 L94.69 697.54 L95.42 698.59 L96.16 699.64 L96.92 700.68 L97.69 701.71 L98.48 702.73 L99.28 703.73 L100.10 704.73 L100.94 705.72 L101.78 706.70 L102.65 707.68 L103.53 708.64 L104.43 709.59 L105.35 710.54 L106.28 711.47 L107.23 712.40 L108.20 713.32 L109.19 714.22 L110.20 715.12 L111.22 716.02 L112.27 716.90 L113.34 717.78 L114.42 718.64 L115.53 719.50 L116.66 720.35 L117.81 721.20 L118.98 722.03 L120.17 722.86 L121.39 723.68 L122.63 724.49 L123.89 725.29 L125.18 726.09 L126.50 726.88 L127.83 727.66 L129.20 728.43 L130.59 729.20 L132.00 729.96 L133.45 730.71 L134.92 731.46 L136.42 732.19 L137.94 732.92 L139.50 733.65 L141.09 734.37 L142.70 735.08 L144.35 735.78 L146.03 736.48 L147.74 737.17 L149.48 737.85 L151.26 738.53 L153.07 739.20 L154.92 739.87 L156.80 740.53 L158.72 741.18 L160.67 741.83 L162.66 742.47 L164.69 743.10 L166.76 743.73 L168.87 744.35 L171.01 744.97 L173.20 745.58 L175.43 746.18 L177.71 746.78 L180.02 747.38 L182.38 747.97 L184.79 748.55 L187.24 749.13 L189.74 749.70 L192.29 750.26 L194.88 750.82 L197.53 751.38 L200.23 751.93 L202.97 752.48 L205.77 753.02 L208.62 753.55 L211.53 754.08 L214.50 754.61 L217.52 755.13 L220.59 755.64 L223.73 756.15 L226.93 756.66 L230.18 757.16 L233.50 757.65 L236.89 758.15 L240.33 758.63 L243.85 759.11 L247.43 759.59 L251.08 760.06 L254.80 760.53 L258.59 761.00 L262.45 761.46 L266.39 761.91 L270.40 762.36 L274.49 762.81 L278.65 763.25 L282.90 763.69 L287.23 764.13 L291.64 764.56 L296.13 764.98 L300.71 765.41 L305.38 765.82 L310.14 766.24 L314.98 766.65" class="f2"/>
<path d="M83.15 633.28 L83.66 635.45 L84.18 637.59 L84.71 639.71 L85.25 641.80 L85.80 643.87 L86.36 645.90 L86.93 647.92 L87.51 649.91 L88.10 651.87 L88.71 653.81 L89.32 655.73 L89.95 657.62 L90.59 659.49 L91.24 661.33 L91.90 663.16 L92.58 664.95 L93.27 666.73 L93.97 668.49 L94.69 670.22 L95.42 671.93 L96.16 673.62 L96.92 675.29 L97.69 676.93 L98.48 678.56 L99.28 680.16 L100.10 681.75 L100.94 683.31 L101.78 684.86 L102.65 686.39 L103.53 687.89 L104.43 689.38 L105.35 690.85 L106.28 692.30 L107.23 693.73 L108.20 695.14 L109.19 696.53 L110.20 697.91 L111.22 699.27 L112.27 700.61 L113.34 701.93 L114.42 703.24 L115.53 704.53 L116.66 705.80 L117.81 707.06 L118.98 708.29 L120.17 709.52 L121.39 710.72 L122.63 711.91 L123.89 713.09 L125.18 714.24 L126.50 715.39 L127.83 716.51 L129.20 717.63 L130.59 718.72 L132.00 719.80 L133.45 720.87 L134.92 721.92 L136.42 722.96 L137.94 723.98 L139.50 724.99 L141.09 725.98 L142.70 726.96 L144.35 727.92 L146.03 728.88 L147.74 729.81 L149.48 730.74 L151.26 731.65 L153.07 732.55 L154.92 733.43 L156.80 734.30 L158.72 735.16 L160.67 736.01 L162.66 736.84 L164.69 737.67 L166.76 738.48 L168.87 739.28 L171.01 740.06 L173.20 740.84 L175.43 741.61 L177.71 742.36 L180.02 743.11 L182.38 743.84 L184.79 744.57 L187.24 745.28 L189.74 745.99 L192.29 746.68 L194.88 747.37 L197.53 748.04 L200.23 748.71 L202.97 749.37 L205.77 750.02 L208.62 750.67 L211.53 751.30 L214.50 751.93 L217.52 752.55 L220.59 753.16 L223.73 753.77 L226.93 754.36 L230.18 754.95 L233.50 755.54 L236.89 756.11 L240.33 756.68 L243.85 757.24 L247.43 757.80 L251.08 758.35 L254.80 758.89 L258.59 759.43 L262.45 759.96 L266.39 760.49 L270.40 761.01 L274.49 761.52 L278.65 762.03 L282.90 762.53 L287.23 763.02 L291.64 763.51 L296.13 764.00 L300.71 764.48 L305.38 764.95 L310.14 765.42 L314.98 765.89" class="ci1"/>
<path d="M83.15 661.92 L83.66 663.43 L84.18 664.93 L84.71 666.41 L85.25 667.88 L85.80 669.33 L86.36 670.77 L86.93 672.19 L87.51 673.60 L88.10 675.00 L88.71 676.38 L89.32 677.75 L89.95 679.11 L90.59 680.45 L91.24 681.78 L91.90 683.10 L92.58 684.40 L93.27 685.69 L93.97 686.97 L94.69 688.24 L95.42 689.49 L96.16 690.73 L96.92 691.96 L97.69 693.18 L98.48 694.39 L99.28 695.58 L100.10 696.76 L100.94 697.94 L101.78 699.10 L102.65 700.25 L103.53 701.38 L104.43 702.51 L105.35 703.63 L106.28 704.73 L107.23 705.83 L108.20 706.92 L109.19 707.99 L110.20 709.06 L111.22 710.11 L112.27 711.16 L113.34 712.19 L114.42 713.22 L115.53 714.24 L116.66 715.24 L117.81 716.24 L118.98 717.23 L120.17 718.21 L121.39 719.19 L122.63 720.15 L123.89 721.10 L125.18 722.05 L126.50 722.99 L127.83 723.92 L129.20 724.84 L130.59 725.76 L132.00 726.66 L133.45 727.56 L134.92 728.45 L136.42 729.34 L137.94 730.22 L139.50 731.09 L141.09 731.95 L142.70 732.81 L144.35 733.65 L146.03 734.50 L147.74 735.33 L149.48 736.16 L151.26 736.98 L153.07 737.80 L154.92 738.61 L156.80 739.41 L158.72 740.21 L160.67 741.00 L162.66 741.78 L164.69 742.56 L166.76 743.33 L168.87 744.10 L171.01 744.86 L173.20 745.61 L175.43 746.35 L177.71 747.09 L180.02 747.83 L182.38 748.55 L184.79 749.27 L187.24 749.98 L189.74 750.69 L192.29 751.39 L194.88 752.08 L197.53 752.77 L200.23 753.45 L202.97 754.12 L205.77 754.79 L208.62 755.45 L211.53 756.10 L214.50 756.75 L217.52 757.39 L220.59 758.02 L223.73 758.65 L226.93 759.27 L230.18 759.88 L233.50 760.49 L236.89 761.09 L240.33 761.68 L243.85 762.27 L247.43 762.85 L251.08 763.42 L254.80 763.99 L258.59 764.55 L262.45 765.10 L266.39 765.65 L270.40 766.19 L274.49 766.73 L278.65 767.26 L282.90 767.78 L287.23 768.30 L291.64 768.81 L296.13 769.32 L300.71 769.82 L305.38 770.31 L310.14 770.80 L314.98 771.28" class="ci1"/>
<path d="M83.15 647.60 L83.66 649.44 L84.18 651.26 L84.71 653.06 L85.25 654.84 L85.80 656.60 L86.36 658.34 L86.93 660.06 L87.51 661.76 L88.10 663.44 L88.71 665.10 L89.32 666.74 L89.95 668.36 L90.59 669.97 L91.24 671.56 L91.90 673.13 L92.58 674.68 L93.27 676.21 L93.97 677.73 L94.69 679.23 L95.42 680.71 L96.16 682.18 L96.92 683.62 L97.69 685.06 L98.48 686.47 L99.28 687.87 L100.10 689.26 L100.94 690.63 L101.78 691.98 L102.65 693.32 L103.53 694.64 L104.43 695.95 L105.35 697.24 L106.28 698.52 L107.23 699.78 L108.20 701.03 L109.19 702.26 L110.20 703.48 L111.22 704.69 L112.27 705.88 L113.34 707.06 L114.42 708.23 L115.53 709.38 L116.66 710.52 L117.81 711.65 L118.98 712.76 L120.17 713.86 L121.39 714.95 L122.63 716.03 L123.89 717.10 L125.18 718.15 L126.50 719.19 L127.83 720.22 L129.20 721.23 L130.59 722.24 L132.00 723.23 L133.45 724.22 L134.92 725.19 L136.42 726.15 L137.94 727.10 L139.50 728.04 L141.09 728.96 L142.70 729.88 L144.35 730.79 L146.03 731.69 L147.74 732.57 L149.48 733.45 L151.26 734.32 L153.07 735.17 L154.92 736.02 L156.80 736.86 L158.72 737.69 L160.67 738.50 L162.66 739.31 L164.69 740.11 L166.76 740.90 L168.87 741.69 L171.01 742.46 L173.20 743.22 L175.43 743.98 L177.71 744.73 L180.02 745.47 L182.38 746.20 L184.79 746.92 L187.24 747.63 L189.74 748.34 L192.29 749.04 L194.88 749.73 L197.53 750.41 L200.23 751.08 L202.97 751.75 L205.77 752.41 L208.62 753.06 L211.53 753.70 L214.50 754.34 L217.52 754.97 L220.59 755.59 L223.73 756.21 L226.93 756.82 L230.18 757.42 L233.50 758.01 L236.89 758.60 L240.33 759.18 L243.85 759.76 L247.43 760.32 L251.08 760.89 L254.80 761.44 L258.59 761.99 L262.45 762.53 L266.39 763.07 L270.40 763.60 L274.49 764.12 L278.65 764.64 L282.90 765.15 L287.23 765.66 L291.64 766.16 L296.13 766.66 L300.71 767.15 L305.38 767.63 L310.14 768.11 L314.98 768.58" class="f1" style="stroke-width:2.7"/>
<circle cx="83.2" cy="670.9" r="1.6"/><circle cx="102.8" cy="672.4" r="1.6"/><circle cx="113" cy="675.2" r="1.6"/><circle cx="119.1" cy="691.5" r="1.6"/><circle cx="151" cy="716.2" r="1.6"/><circle cx="124.5" cy="736.6" r="1.6"/><circle cx="127.3" cy="742.2" r="1.6"/><circle cx="139.8" cy="741" r="1.6"/><circle cx="155.1" cy="749.4" r="1.6"/><circle cx="166.3" cy="750.4" r="1.6"/><circle cx="173.5" cy="751.9" r="1.6"/><circle cx="169.4" cy="738.2" r="1.6"/><circle cx="191.3" cy="724.3" r="1.6"/><circle cx="198.3" cy="734.2" r="1.6"/><circle cx="215.8" cy="738.3" r="1.6"/><circle cx="224" cy="747.8" r="1.6"/><circle cx="229.1" cy="746.4" r="1.6"/><circle cx="230.6" cy="748.2" r="1.6"/><circle cx="240.8" cy="749.2" r="1.6"/><circle cx="250" cy="754.6" r="1.6"/><circle cx="179.1" cy="741.8" r="1.6"/><circle cx="190.3" cy="744.9" r="1.6"/><circle cx="197.4" cy="762.8" r="1.6"/><circle cx="214.8" cy="761.2" r="1.6"/><circle cx="216.8" cy="764.3" r="1.6"/><circle cx="218.4" cy="767.1" r="1.6"/><circle cx="237.8" cy="769.9" r="1.6"/><circle cx="241.8" cy="768.2" r="1.6"/><circle cx="245.4" cy="766.8" r="1.6"/><circle cx="246.4" cy="763.8" r="1.6"/><circle cx="249.6" cy="754.5" r="1.6"/><circle cx="256" cy="769.8" r="1.6"/><circle cx="259.3" cy="773.6" r="1.6"/><circle cx="260.3" cy="775.1" r="1.6"/><circle cx="264.4" cy="772.6" r="1.6"/><circle cx="274.6" cy="776.6" r="1.6"/><circle cx="280.9" cy="772.6" r="1.6"/><circle cx="284.8" cy="780.7" r="1.6"/><circle cx="290.9" cy="779.4" r="1.6"/><circle cx="307.4" cy="778.2" r="1.6"/><circle cx="315.9" cy="782" r="1.6"/><circle cx="165.9" cy="743.6" r="1.6"/><circle cx="167.9" cy="740.6" r="1.6"/><circle cx="169.1" cy="745.3" r="1.6"/><circle cx="170.2" cy="745.0" r="1.6"/><circle cx="172.4" cy="743.1" r="1.6"/><circle cx="172.7" cy="742.2" r="1.6"/><circle cx="174.7" cy="746.6" r="1.6"/><circle cx="176.4" cy="749.8" r="1.6"/><circle cx="177.0" cy="747.6" r="1.6"/><circle cx="179.9" cy="749.8" r="1.6"/><circle cx="181.1" cy="750.5" r="1.6"/><circle cx="181.7" cy="751.9" r="1.6"/><circle cx="183.9" cy="749.3" r="1.6"/><circle cx="185.8" cy="749.8" r="1.6"/><circle cx="186.3" cy="751.1" r="1.6"/><circle cx="188.8" cy="756.5" r="1.6"/><circle cx="189.4" cy="753.2" r="1.6"/><circle cx="191.5" cy="750.4" r="1.6"/><circle cx="192.3" cy="754.4" r="1.6"/><circle cx="194.9" cy="750.7" r="1.6"/><circle cx="196.3" cy="751.6" r="1.6"/><circle cx="196.7" cy="754.3" r="1.6"/><circle cx="198.2" cy="754.4" r="1.6"/><circle cx="200.4" cy="753.9" r="1.6"/><circle cx="201.0" cy="752.4" r="1.6"/><circle cx="203.0" cy="751.9" r="1.6"/><circle cx="205.2" cy="752.3" r="1.6"/><circle cx="206.2" cy="754.6" r="1.6"/><circle cx="208.1" cy="760.3" r="1.6"/><circle cx="208.5" cy="756.9" r="1.6"/><circle cx="211.1" cy="755.6" r="1.6"/><circle cx="212.7" cy="755.3" r="1.6"/><circle cx="213.5" cy="755.6" r="1.6"/><circle cx="214.6" cy="755.9" r="1.6"/><circle cx="216.3" cy="757.7" r="1.6"/><circle cx="218.6" cy="756.4" r="1.6"/><circle cx="220.4" cy="759.0" r="1.6"/><circle cx="221.0" cy="756.5" r="1.6"/><circle cx="222.8" cy="757.7" r="1.6"/><circle cx="224.6" cy="756.8" r="1.6"/><circle cx="226.2" cy="758.5" r="1.6"/><circle cx="227.9" cy="757.9" r="1.6"/><circle cx="228.1" cy="756.8" r="1.6"/><circle cx="230.9" cy="761.4" r="1.6"/><circle cx="231.5" cy="761.4" r="1.6"/><circle cx="233.0" cy="757.9" r="1.6"/><circle cx="234.5" cy="759.8" r="1.6"/><circle cx="235.7" cy="760.4" r="1.6"/><circle cx="238.0" cy="761.3" r="1.6"/><circle cx="238.6" cy="760.1" r="1.6"/><circle cx="241.5" cy="758.3" r="1.6"/><circle cx="241.9" cy="760.1" r="1.6"/><circle cx="243.9" cy="762.0" r="1.6"/><circle cx="245.1" cy="758.9" r="1.6"/><circle cx="246.1" cy="761.7" r="1.6"/><circle cx="248.2" cy="761.2" r="1.6"/><circle cx="250.3" cy="764.2" r="1.6"/><circle cx="251.9" cy="764.6" r="1.6"/><circle cx="252.9" cy="762.4" r="1.6"/><circle cx="254.2" cy="761.3" r="1.6"/><circle cx="255.2" cy="763.5" r="1.6"/><circle cx="257.2" cy="761.2" r="1.6"/><circle cx="259.5" cy="766.6" r="1.6"/><circle cx="260.2" cy="758.3" r="1.6"/><circle cx="261.7" cy="763.0" r="1.6"/><circle cx="262.9" cy="761.0" r="1.6"/><circle cx="264.6" cy="765.0" r="1.6"/><circle cx="267.0" cy="765.7" r="1.6"/><circle cx="268.4" cy="762.3" r="1.6"/><circle cx="269.0" cy="762.3" r="1.6"/><circle cx="270.1" cy="763.8" r="1.6"/><circle cx="272.8" cy="768.4" r="1.6"/><circle cx="273.5" cy="765.6" r="1.6"/><circle cx="275.5" cy="761.3" r="1.6"/><circle cx="277.0" cy="765.2" r="1.6"/><circle cx="278.6" cy="763.2" r="1.6"/><circle cx="279.4" cy="761.6" r="1.6"/><circle cx="281.5" cy="766.0" r="1.6"/><circle cx="282.4" cy="768.7" r="1.6"/><circle cx="284.4" cy="764.9" r="1.6"/><circle cx="285.0" cy="764.4" r="1.6"/><circle cx="287.5" cy="765.8" r="1.6"/><circle cx="288.7" cy="767.7" r="1.6"/><circle cx="290.7" cy="763.7" r="1.6"/><circle cx="291.5" cy="764.5" r="1.6"/><circle cx="293.7" cy="764.1" r="1.6"/><circle cx="294.5" cy="769.4" r="1.6"/><circle cx="296.5" cy="763.5" r="1.6"/><circle cx="298.5" cy="769.9" r="1.6"/><circle cx="299.3" cy="766.7" r="1.6"/><circle cx="300.2" cy="770.2" r="1.6"/><circle cx="302.2" cy="763.3" r="1.6"/><circle cx="304.0" cy="767.2" r="1.6"/><circle cx="304.8" cy="764.5" r="1.6"/><circle cx="307.2" cy="765.4" r="1.6"/><circle cx="308.1" cy="766.7" r="1.6"/><circle cx="309.9" cy="769.0" r="1.6"/><circle cx="311.6" cy="765.5" r="1.6"/><circle cx="312.0" cy="769.9" r="1.6"/><circle cx="314.5" cy="770.9" r="1.6"/>
</svg>
</body></html>
